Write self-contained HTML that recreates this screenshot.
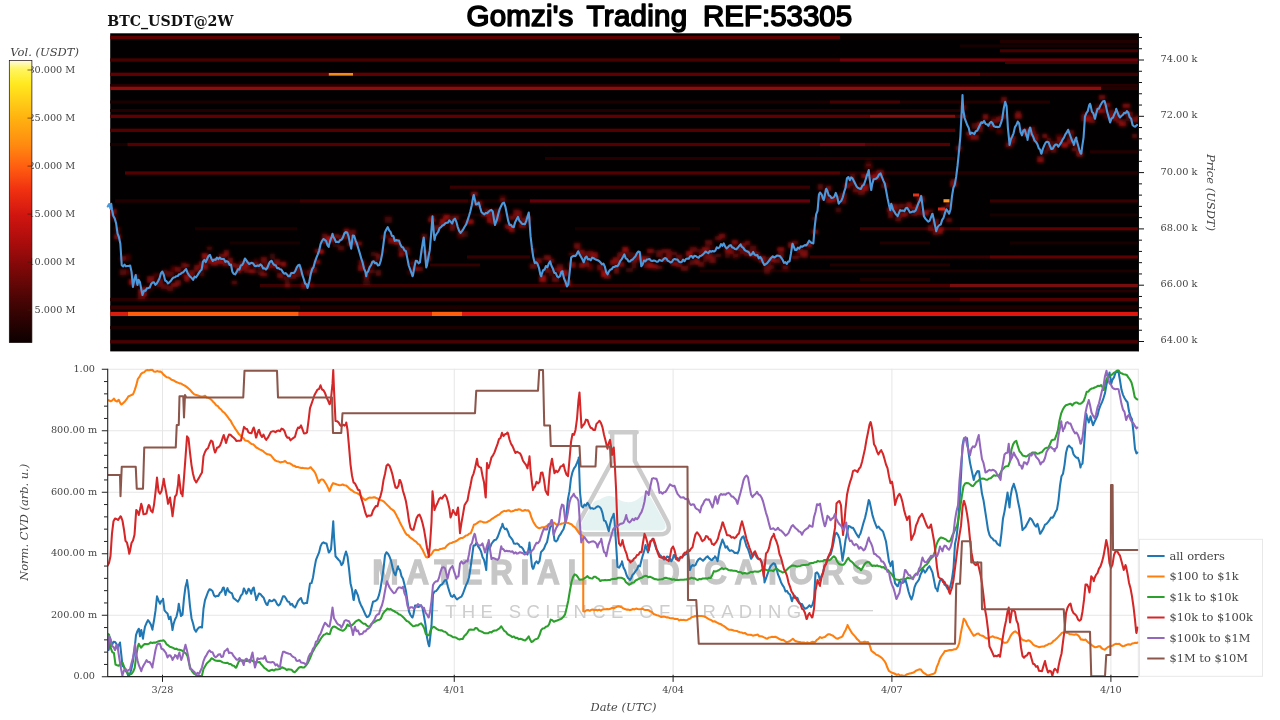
<!DOCTYPE html>
<html lang="en"><head><meta charset="utf-8"><title>Gomzi's Trading REF:53305</title>
<style>
html,body{margin:0;padding:0;background:#fff;}
body{width:1280px;height:720px;overflow:hidden;}
svg{display:block;}
.tk{font-family:"DejaVu Serif","Liberation Serif",serif;font-size:9.7px;fill:#444;}
.ax{font-family:"DejaVu Serif","Liberation Serif",serif;font-size:11.45px;font-style:italic;fill:#444;}
.lg{font-family:"DejaVu Serif","Liberation Serif",serif;font-size:11.45px;fill:#444;}
.ttl{font-family:"DejaVu Serif","Liberation Serif",serif;font-size:14.15px;font-weight:bold;fill:#111;}
.hd{font-family:"Liberation Sans","DejaVu Sans",sans-serif;font-size:29.5px;fill:#000;stroke:#000;stroke-width:1.6px;stroke-linejoin:round;stroke-linecap:round;}
.wm1{font-family:"Liberation Sans","DejaVu Sans",sans-serif;font-weight:bold;font-size:36px;fill:#c6c6c6;stroke:#c6c6c6;stroke-width:1.3px;}
.wm2{font-family:"Liberation Sans","DejaVu Sans",sans-serif;font-size:18.5px;fill:#cdcdcd;}
.s{fill:none;stroke-width:2.05;stroke-linejoin:round;stroke-linecap:round;}
</style></head><body>
<svg width="1280" height="720" viewBox="0 0 1280 720">
<defs>
<linearGradient id="cb" x1="0" y1="0" x2="0" y2="1">
<stop offset="0" stop-color="#fffbe0"/><stop offset="0.03" stop-color="#fff560"/><stop offset="0.08" stop-color="#ffea20"/>
<stop offset="0.2" stop-color="#ffb410"/><stop offset="0.3" stop-color="#ff8a10"/><stop offset="0.38" stop-color="#ff5c10"/>
<stop offset="0.46" stop-color="#f03010"/><stop offset="0.55" stop-color="#d01510"/><stop offset="0.65" stop-color="#a80c0c"/>
<stop offset="0.74" stop-color="#7c0808"/><stop offset="0.86" stop-color="#440404"/><stop offset="1" stop-color="#0c0000"/>
</linearGradient>
<filter id="b1" x="-5%" y="-5%" width="110%" height="110%"><feGaussianBlur stdDeviation="0.7"/></filter>
<filter id="b2" x="-5%" y="-5%" width="110%" height="110%"><feGaussianBlur stdDeviation="1.6"/></filter>
<filter id="b0" x="-5%" y="-5%" width="110%" height="110%"><feGaussianBlur stdDeviation="0.35"/></filter>
<clipPath id="hc"><rect x="110.2" y="33.3" width="1028.2" height="318.1"/></clipPath>
<clipPath id="cc"><rect x="108" y="368.5" width="1030.5" height="308.6"/></clipPath>
</defs>
<rect x="0" y="0" width="1280" height="720" fill="#fff"/>
<text class="hd" y="25.5"><tspan x="466.60" textLength="106.60" lengthAdjust="spacing">Gomzi's</tspan> <tspan x="586.60" textLength="100.60" lengthAdjust="spacing">Trading</tspan> <tspan x="703.00" textLength="149.20" lengthAdjust="spacing">REF:53305</tspan></text>

<text class="ttl" x="107.3" y="26.2">BTC_USDT@2W</text>
<text class="ax" x="10.3" y="55.6" textLength="68.6" lengthAdjust="spacingAndGlyphs">Vol. (USDT)</text>
<text class="tk" x="75.3" y="72.9" text-anchor="end">30.000 M</text>
<text class="tk" x="75.3" y="121" text-anchor="end">25.000 M</text>
<text class="tk" x="75.3" y="169" text-anchor="end">20.000 M</text>
<text class="tk" x="75.3" y="217" text-anchor="end">15.000 M</text>
<text class="tk" x="75.3" y="265.1" text-anchor="end">10.000 M</text>
<text class="tk" x="75.3" y="313.1" text-anchor="end">5.000 M</text>
<rect x="9.3" y="60.6" width="22.6" height="282" fill="url(#cb)" stroke="#1a0a0a" stroke-width="0.7"/>
<line x1="27.5" x2="32" y1="70" y2="70" stroke="#3a1a0a" stroke-width="0.8" opacity="0.8"/>
<line x1="27.5" x2="32" y1="118.1" y2="118.1" stroke="#3a1a0a" stroke-width="0.8" opacity="0.8"/>
<line x1="27.5" x2="32" y1="166.1" y2="166.1" stroke="#3a1a0a" stroke-width="0.8" opacity="0.8"/>
<line x1="27.5" x2="32" y1="214.1" y2="214.1" stroke="#3a1a0a" stroke-width="0.8" opacity="0.8"/>
<line x1="27.5" x2="32" y1="262.2" y2="262.2" stroke="#3a1a0a" stroke-width="0.8" opacity="0.8"/>
<line x1="27.5" x2="32" y1="310.2" y2="310.2" stroke="#3a1a0a" stroke-width="0.8" opacity="0.8"/>
<rect x="110.2" y="33.3" width="1028.2" height="318.1" fill="#020000"/>
<g clip-path="url(#hc)">
<g filter="url(#b1)">
<rect x="110" y="35.75" width="730" height="3.3" fill="rgb(94,5,6)"/>
<rect x="840" y="35.75" width="298.4" height="3.3" fill="rgb(17,1,1)"/>
<rect x="1000" y="40.05" width="138.4" height="2.9" fill="rgb(34,2,2)"/>
<rect x="960" y="44.35" width="178.4" height="2.9" fill="rgb(24,1,1)"/>
<rect x="1000" y="49.25" width="138.4" height="3.1" fill="rgb(70,4,4)"/>
<rect x="110" y="58.35" width="730" height="3.3" fill="rgb(70,4,4)"/>
<rect x="840" y="58.35" width="165" height="3.3" fill="rgb(112,6,7)"/>
<rect x="1005" y="58.35" width="133.4" height="3.3" fill="rgb(104,6,7)"/>
<rect x="1005" y="61" width="133.4" height="3" fill="rgb(66,3,4)"/>
<rect x="110" y="72.65" width="870" height="3.3" fill="rgb(97,5,6)"/>
<rect x="980" y="72.65" width="158.4" height="3.3" fill="rgb(62,3,4)"/>
<rect x="110" y="83.95" width="1028.4" height="2.7" fill="rgb(37,2,2)"/>
<rect x="110" y="86.55" width="991" height="3.5" fill="rgb(140,8,9)"/>
<rect x="1101" y="86.55" width="37.4" height="3.5" fill="rgb(37,2,2)"/>
<rect x="110" y="100.45" width="720" height="3.1" fill="rgb(26,1,1)"/>
<rect x="830" y="100.45" width="70" height="3.1" fill="rgb(70,4,4)"/>
<rect x="900" y="100.45" width="150" height="3.1" fill="rgb(34,2,2)"/>
<rect x="110" y="109.05" width="850" height="2.9" fill="rgb(35,2,2)"/>
<rect x="110" y="114.65" width="760" height="3.3" fill="rgb(97,5,6)"/>
<rect x="870" y="114.65" width="85" height="3.3" fill="rgb(132,7,9)"/>
<rect x="955" y="114.65" width="10" height="3.3" fill="rgb(59,3,4)"/>
<rect x="110" y="128.65" width="845" height="3.3" fill="rgb(84,5,5)"/>
<rect x="110" y="142.85" width="17.5" height="3.3" fill="rgb(24,1,1)"/>
<rect x="127.5" y="142.85" width="692.5" height="3.3" fill="rgb(84,5,5)"/>
<rect x="820" y="142.85" width="45" height="3.3" fill="rgb(112,6,7)"/>
<rect x="865" y="142.85" width="85" height="3.3" fill="rgb(84,5,5)"/>
<rect x="545" y="156.95" width="410" height="3.1" fill="rgb(38,2,2)"/>
<rect x="1090" y="150.35" width="48.4" height="2.9" fill="rgb(34,2,2)"/>
<rect x="125" y="171.35" width="715" height="3.3" fill="rgb(84,5,5)"/>
<rect x="840" y="171.35" width="118" height="3.3" fill="rgb(37,2,2)"/>
<rect x="958" y="171.35" width="180.4" height="3.3" fill="rgb(34,2,2)"/>
<rect x="450" y="185.65" width="360" height="3.1" fill="rgb(57,3,4)"/>
<rect x="115" y="199.35" width="185" height="3.3" fill="rgb(34,2,2)"/>
<rect x="300" y="199.35" width="168" height="3.3" fill="rgb(62,3,4)"/>
<rect x="468" y="199.35" width="62" height="3.3" fill="rgb(27,1,1)"/>
<rect x="530" y="199.35" width="280" height="3.3" fill="rgb(100,6,7)"/>
<rect x="990" y="199.35" width="148.4" height="3.3" fill="rgb(55,3,3)"/>
<rect x="430" y="213.55" width="90" height="2.9" fill="rgb(24,1,1)"/>
<rect x="990" y="213.55" width="148.4" height="2.9" fill="rgb(18,1,1)"/>
<rect x="195" y="227.25" width="102" height="3.1" fill="rgb(29,1,2)"/>
<rect x="575" y="227.25" width="125" height="3.1" fill="rgb(24,1,1)"/>
<rect x="860" y="227.25" width="100" height="3.1" fill="rgb(62,3,4)"/>
<rect x="960" y="227.25" width="178.4" height="3.1" fill="rgb(96,5,6)"/>
<rect x="230" y="241.55" width="70" height="2.9" fill="rgb(24,1,1)"/>
<rect x="880" y="241.55" width="50" height="2.9" fill="rgb(34,2,2)"/>
<rect x="1010" y="241.55" width="128.4" height="2.9" fill="rgb(21,1,1)"/>
<rect x="467" y="255.45" width="63" height="3.1" fill="rgb(51,3,3)"/>
<rect x="810" y="255.45" width="180" height="3.1" fill="rgb(55,3,3)"/>
<rect x="990" y="255.45" width="148.4" height="3.1" fill="rgb(96,5,6)"/>
<rect x="430" y="263.55" width="50" height="2.9" fill="rgb(51,3,3)"/>
<rect x="830" y="263.55" width="120" height="2.9" fill="rgb(34,2,2)"/>
<rect x="700" y="269.55" width="438.4" height="2.9" fill="rgb(27,1,1)"/>
<rect x="860" y="278.05" width="70" height="2.9" fill="rgb(31,1,2)"/>
<rect x="260" y="283.85" width="380" height="3.3" fill="rgb(59,3,4)"/>
<rect x="640" y="283.85" width="310" height="3.3" fill="rgb(70,4,4)"/>
<rect x="950" y="283.85" width="188.4" height="3.3" fill="rgb(120,7,8)"/>
<rect x="560" y="289.55" width="578.4" height="2.9" fill="rgb(40,2,2)"/>
<rect x="110" y="297.85" width="190" height="3.3" fill="rgb(38,2,2)"/>
<rect x="300" y="297.85" width="340" height="3.3" fill="rgb(51,3,3)"/>
<rect x="640" y="297.85" width="320" height="3.3" fill="rgb(62,3,4)"/>
<rect x="960" y="297.85" width="178.4" height="3.3" fill="rgb(84,5,5)"/>
<rect x="110" y="305.5" width="190" height="4" fill="rgb(53,3,3)"/>
<rect x="300" y="305.5" width="838.4" height="4" fill="rgb(31,1,2)"/>
<rect x="110" y="311.8" width="17.8" height="4.2" fill="rgb(216,26,12)"/>
<rect x="127.8" y="311.8" width="171" height="4.2" fill="rgb(255,92,16)"/>
<rect x="298.8" y="311.8" width="133.2" height="4.2" fill="rgb(218,26,12)"/>
<rect x="432" y="311.8" width="30" height="4.2" fill="rgb(255,95,16)"/>
<rect x="462" y="311.8" width="676.4" height="4.2" fill="rgb(222,24,12)"/>
<rect x="110" y="325.95" width="1028.4" height="3.1" fill="rgb(31,1,2)"/>
<rect x="110" y="340.15" width="1028.4" height="3.3" fill="rgb(72,4,5)"/>
</g>
<g filter="url(#b2)">
<rect x="107.91" y="212.17" width="6.18" height="3.67" fill="rgb(152,16,16)" opacity="0.71"/>
<rect x="107.14" y="208.95" width="7.73" height="4.25" fill="rgb(193,16,16)" opacity="0.34"/>
<rect x="111.62" y="208.63" width="5.18" height="5.48" fill="rgb(147,16,16)" opacity="0.77"/>
<rect x="111.38" y="215.45" width="5.66" height="5.45" fill="rgb(193,16,16)" opacity="0.37"/>
<rect x="114.3" y="226.61" width="6.68" height="5.89" fill="rgb(164,16,16)" opacity="0.35"/>
<rect x="114.07" y="234.16" width="7.14" height="5.48" fill="rgb(203,16,16)" opacity="0.61"/>
<rect x="119.49" y="269.12" width="6.4" height="6.73" fill="rgb(171,16,16)" opacity="0.48"/>
<rect x="119.82" y="255.92" width="5.73" height="5.51" fill="rgb(183,16,16)" opacity="0.56"/>
<rect x="125.26" y="269.15" width="5.22" height="5.29" fill="rgb(183,16,16)" opacity="0.38"/>
<rect x="124.74" y="254.02" width="6.27" height="6.87" fill="rgb(180,16,16)" opacity="0.34"/>
<rect x="128.52" y="279.27" width="6.74" height="5.1" fill="rgb(174,16,16)" opacity="0.72"/>
<rect x="129.29" y="279.61" width="5.19" height="6.06" fill="rgb(197,16,16)" opacity="0.45"/>
<rect x="132.73" y="279.71" width="6.04" height="6.79" fill="rgb(154,16,16)" opacity="0.48"/>
<rect x="132.09" y="274.51" width="7.3" height="3.95" fill="rgb(190,16,16)" opacity="0.42"/>
<rect x="138.32" y="288.92" width="6.35" height="5.42" fill="rgb(195,16,16)" opacity="0.74"/>
<rect x="137.52" y="293.69" width="7.96" height="5.89" fill="rgb(169,16,16)" opacity="0.49"/>
<rect x="141.46" y="286.63" width="6.98" height="3.54" fill="rgb(163,16,16)" opacity="0.72"/>
<rect x="142.23" y="291.18" width="5.44" height="5.37" fill="rgb(180,16,16)" opacity="0.6"/>
<rect x="147" y="276.08" width="7.61" height="6.83" fill="rgb(190,16,16)" opacity="0.64"/>
<rect x="148.15" y="285.48" width="5.31" height="5.72" fill="rgb(148,16,16)" opacity="0.33"/>
<rect x="153.75" y="283.99" width="6.02" height="3.68" fill="rgb(159,16,16)" opacity="0.3"/>
<rect x="153.34" y="273.07" width="6.84" height="3.75" fill="rgb(188,16,16)" opacity="0.4"/>
<rect x="156.8" y="281.9" width="6.81" height="5.16" fill="rgb(202,16,16)" opacity="0.36"/>
<rect x="157.24" y="278.67" width="5.94" height="4" fill="rgb(173,16,16)" opacity="0.67"/>
<rect x="161.84" y="269.31" width="5.62" height="6.83" fill="rgb(143,16,16)" opacity="0.48"/>
<rect x="160.85" y="283.72" width="7.59" height="5.94" fill="rgb(186,16,16)" opacity="0.43"/>
<rect x="167.07" y="285.5" width="6.6" height="6.23" fill="rgb(168,16,16)" opacity="0.46"/>
<rect x="166.64" y="270.94" width="7.45" height="6.09" fill="rgb(203,16,16)" opacity="0.41"/>
<rect x="170.75" y="265.9" width="7.37" height="5.15" fill="rgb(184,16,16)" opacity="0.4"/>
<rect x="170.85" y="282.5" width="7.17" height="4.72" fill="rgb(150,16,16)" opacity="0.79"/>
<rect x="175.09" y="267.17" width="6.01" height="5.19" fill="rgb(140,16,16)" opacity="0.79"/>
<rect x="175.08" y="279.92" width="6.03" height="5.75" fill="rgb(155,16,16)" opacity="0.72"/>
<rect x="181.06" y="262.47" width="5.54" height="6.26" fill="rgb(190,16,16)" opacity="0.47"/>
<rect x="179.91" y="271.61" width="7.84" height="6.04" fill="rgb(156,16,16)" opacity="0.39"/>
<rect x="184.19" y="275.2" width="5.44" height="6.39" fill="rgb(184,16,16)" opacity="0.79"/>
<rect x="184.21" y="263.78" width="5.39" height="3.55" fill="rgb(153,16,16)" opacity="0.79"/>
<rect x="187.68" y="269.81" width="7.62" height="6.39" fill="rgb(172,16,16)" opacity="0.41"/>
<rect x="188.63" y="271.36" width="5.72" height="5.55" fill="rgb(193,16,16)" opacity="0.43"/>
<rect x="193.96" y="264.68" width="6.06" height="5.1" fill="rgb(193,16,16)" opacity="0.59"/>
<rect x="193.71" y="268.47" width="6.57" height="3.57" fill="rgb(163,16,16)" opacity="0.52"/>
<rect x="198.61" y="261.13" width="6.42" height="6.04" fill="rgb(181,16,16)" opacity="0.58"/>
<rect x="199.16" y="271.07" width="5.32" height="5.46" fill="rgb(175,16,16)" opacity="0.42"/>
<rect x="201.6" y="253.11" width="6.69" height="6.16" fill="rgb(196,16,16)" opacity="0.76"/>
<rect x="201.69" y="264.5" width="6.52" height="5.29" fill="rgb(197,16,16)" opacity="0.65"/>
<rect x="206.6" y="258.43" width="5.74" height="5.33" fill="rgb(173,16,16)" opacity="0.74"/>
<rect x="206.76" y="246.35" width="5.41" height="3.93" fill="rgb(149,16,16)" opacity="0.52"/>
<rect x="210.98" y="258.98" width="7.01" height="6.24" fill="rgb(159,16,16)" opacity="0.75"/>
<rect x="210.66" y="259.22" width="7.65" height="6.89" fill="rgb(152,16,16)" opacity="0.41"/>
<rect x="215.17" y="258.56" width="7" height="4.28" fill="rgb(205,16,16)" opacity="0.65"/>
<rect x="215.88" y="259.8" width="5.59" height="4.61" fill="rgb(142,16,16)" opacity="0.66"/>
<rect x="220.16" y="259.88" width="5.05" height="4.66" fill="rgb(205,16,16)" opacity="0.61"/>
<rect x="218.81" y="253.64" width="7.76" height="4.3" fill="rgb(150,16,16)" opacity="0.74"/>
<rect x="223.71" y="250.17" width="5.54" height="6.15" fill="rgb(173,16,16)" opacity="0.71"/>
<rect x="222.61" y="260.93" width="7.76" height="5.5" fill="rgb(151,16,16)" opacity="0.65"/>
<rect x="227.72" y="257.53" width="5.22" height="6.78" fill="rgb(173,16,16)" opacity="0.62"/>
<rect x="227.49" y="257.25" width="5.67" height="4.43" fill="rgb(141,16,16)" opacity="0.36"/>
<rect x="231.44" y="280.65" width="5.8" height="3.95" fill="rgb(170,16,16)" opacity="0.56"/>
<rect x="231.45" y="263.39" width="5.79" height="4.13" fill="rgb(179,16,16)" opacity="0.77"/>
<rect x="235.68" y="263.72" width="6.5" height="4.12" fill="rgb(142,16,16)" opacity="0.47"/>
<rect x="236.41" y="267.76" width="5.06" height="5.27" fill="rgb(205,16,16)" opacity="0.79"/>
<rect x="239.63" y="260.88" width="7.46" height="5.01" fill="rgb(190,16,16)" opacity="0.55"/>
<rect x="239.39" y="265.69" width="7.95" height="4.7" fill="rgb(157,16,16)" opacity="0.72"/>
<rect x="243.82" y="269.15" width="7.51" height="3.55" fill="rgb(172,16,16)" opacity="0.61"/>
<rect x="244.95" y="261.15" width="5.25" height="6.44" fill="rgb(176,16,16)" opacity="0.74"/>
<rect x="249.59" y="261.67" width="5.56" height="4.44" fill="rgb(186,16,16)" opacity="0.3"/>
<rect x="249.05" y="269.14" width="6.64" height="4.36" fill="rgb(179,16,16)" opacity="0.78"/>
<rect x="252.95" y="262.43" width="6.14" height="5.16" fill="rgb(165,16,16)" opacity="0.55"/>
<rect x="253.52" y="258.77" width="5.01" height="4.42" fill="rgb(191,16,16)" opacity="0.34"/>
<rect x="257.83" y="264.51" width="5.91" height="4.31" fill="rgb(159,16,16)" opacity="0.59"/>
<rect x="257.2" y="269.99" width="7.16" height="5.23" fill="rgb(158,16,16)" opacity="0.44"/>
<rect x="260.2" y="272.52" width="7.44" height="3.99" fill="rgb(204,16,16)" opacity="0.56"/>
<rect x="260.54" y="256.72" width="6.75" height="6.62" fill="rgb(169,16,16)" opacity="0.64"/>
<rect x="264.13" y="265.88" width="6.08" height="3.87" fill="rgb(146,16,16)" opacity="0.72"/>
<rect x="263.65" y="261.26" width="7.04" height="5.21" fill="rgb(148,16,16)" opacity="0.3"/>
<rect x="269.82" y="253.48" width="5.2" height="6.08" fill="rgb(149,16,16)" opacity="0.43"/>
<rect x="268.78" y="263.52" width="7.27" height="4.31" fill="rgb(198,16,16)" opacity="0.62"/>
<rect x="273.03" y="267.05" width="7.73" height="4.51" fill="rgb(165,16,16)" opacity="0.32"/>
<rect x="273.9" y="259" width="6" height="5.78" fill="rgb(157,16,16)" opacity="0.65"/>
<rect x="275.98" y="261.91" width="7.92" height="3.85" fill="rgb(202,16,16)" opacity="0.41"/>
<rect x="277.01" y="272.83" width="5.86" height="5.13" fill="rgb(165,16,16)" opacity="0.68"/>
<rect x="281.34" y="261.59" width="5.05" height="5.11" fill="rgb(197,16,16)" opacity="0.71"/>
<rect x="279.99" y="273.35" width="7.75" height="6.76" fill="rgb(151,16,16)" opacity="0.34"/>
<rect x="284.6" y="281.51" width="5.4" height="6.37" fill="rgb(154,16,16)" opacity="0.55"/>
<rect x="283.45" y="276.32" width="7.69" height="5.2" fill="rgb(140,16,16)" opacity="0.31"/>
<rect x="289.55" y="274.73" width="7.18" height="4.96" fill="rgb(155,16,16)" opacity="0.49"/>
<rect x="289.52" y="270.76" width="7.25" height="6.44" fill="rgb(165,16,16)" opacity="0.36"/>
<rect x="295.69" y="266.37" width="5.19" height="4.87" fill="rgb(149,16,16)" opacity="0.73"/>
<rect x="294.65" y="270.94" width="7.27" height="6.49" fill="rgb(146,16,16)" opacity="0.44"/>
<rect x="301.06" y="282.1" width="5.45" height="6.9" fill="rgb(180,16,16)" opacity="0.52"/>
<rect x="300.11" y="269.78" width="7.36" height="5" fill="rgb(191,16,16)" opacity="0.31"/>
<rect x="306.95" y="270.09" width="5.15" height="6.06" fill="rgb(157,16,16)" opacity="0.53"/>
<rect x="305.66" y="282.05" width="7.74" height="5.43" fill="rgb(193,16,16)" opacity="0.39"/>
<rect x="309.95" y="266.26" width="7.22" height="5.78" fill="rgb(170,16,16)" opacity="0.5"/>
<rect x="310.06" y="269.01" width="7.01" height="3.92" fill="rgb(149,16,16)" opacity="0.62"/>
<rect x="314" y="259.47" width="6.36" height="4.66" fill="rgb(194,16,16)" opacity="0.68"/>
<rect x="314.32" y="248.96" width="5.73" height="4.11" fill="rgb(180,16,16)" opacity="0.58"/>
<rect x="318.1" y="250.09" width="5.61" height="3.57" fill="rgb(189,16,16)" opacity="0.74"/>
<rect x="318.08" y="249.14" width="5.63" height="4.45" fill="rgb(203,16,16)" opacity="0.68"/>
<rect x="321.48" y="238.01" width="6.51" height="5.7" fill="rgb(167,16,16)" opacity="0.73"/>
<rect x="321.86" y="233.24" width="5.75" height="4.9" fill="rgb(179,16,16)" opacity="0.52"/>
<rect x="327.14" y="235.78" width="6.28" height="6.17" fill="rgb(202,16,16)" opacity="0.7"/>
<rect x="326.38" y="235.93" width="7.79" height="6.75" fill="rgb(199,16,16)" opacity="0.56"/>
<rect x="333.36" y="234.31" width="5.67" height="4.03" fill="rgb(153,16,16)" opacity="0.79"/>
<rect x="332.53" y="243.52" width="7.33" height="3.5" fill="rgb(144,16,16)" opacity="0.36"/>
<rect x="337.69" y="245.44" width="6.88" height="5.35" fill="rgb(154,16,16)" opacity="0.52"/>
<rect x="337.84" y="235.08" width="6.57" height="5.54" fill="rgb(168,16,16)" opacity="0.49"/>
<rect x="343.55" y="228.48" width="5.9" height="5.11" fill="rgb(171,16,16)" opacity="0.78"/>
<rect x="343.18" y="235.53" width="6.64" height="3.6" fill="rgb(179,16,16)" opacity="0.51"/>
<rect x="346.16" y="233.37" width="7.02" height="4.97" fill="rgb(194,16,16)" opacity="0.43"/>
<rect x="347.12" y="241.32" width="5.1" height="4.68" fill="rgb(190,16,16)" opacity="0.51"/>
<rect x="350.01" y="240.13" width="6.51" height="4.22" fill="rgb(179,16,16)" opacity="0.78"/>
<rect x="350.43" y="229.4" width="5.66" height="6.16" fill="rgb(203,16,16)" opacity="0.45"/>
<rect x="354.23" y="241.38" width="7.73" height="3.7" fill="rgb(190,16,16)" opacity="0.6"/>
<rect x="354.13" y="243.4" width="7.92" height="4" fill="rgb(147,16,16)" opacity="0.33"/>
<rect x="357.82" y="265.09" width="7.65" height="6.06" fill="rgb(161,16,16)" opacity="0.8"/>
<rect x="358.17" y="259.79" width="6.96" height="5.34" fill="rgb(179,16,16)" opacity="0.53"/>
<rect x="362.66" y="280.16" width="7.95" height="5.05" fill="rgb(150,16,16)" opacity="0.35"/>
<rect x="363.51" y="273.32" width="6.26" height="6.6" fill="rgb(166,16,16)" opacity="0.58"/>
<rect x="367.63" y="269.77" width="6.3" height="3.67" fill="rgb(187,16,16)" opacity="0.54"/>
<rect x="367.73" y="263.25" width="6.09" height="6.64" fill="rgb(192,16,16)" opacity="0.32"/>
<rect x="371.97" y="260.57" width="5.1" height="3.72" fill="rgb(172,16,16)" opacity="0.76"/>
<rect x="370.68" y="251.78" width="7.7" height="4.69" fill="rgb(145,16,16)" opacity="0.44"/>
<rect x="375.36" y="269.9" width="5.89" height="6.03" fill="rgb(148,16,16)" opacity="0.6"/>
<rect x="375.65" y="253.9" width="5.32" height="6" fill="rgb(189,16,16)" opacity="0.53"/>
<rect x="380.98" y="247.97" width="5.4" height="5.24" fill="rgb(178,16,16)" opacity="0.3"/>
<rect x="380.69" y="234.9" width="5.98" height="4.62" fill="rgb(150,16,16)" opacity="0.48"/>
<rect x="385.34" y="233.55" width="5.74" height="3.73" fill="rgb(181,16,16)" opacity="0.32"/>
<rect x="384.39" y="216.07" width="7.65" height="6.96" fill="rgb(150,16,16)" opacity="0.43"/>
<rect x="388.28" y="237.3" width="7.13" height="5.06" fill="rgb(193,16,16)" opacity="0.42"/>
<rect x="388.33" y="237.75" width="7.02" height="6.12" fill="rgb(155,16,16)" opacity="0.72"/>
<rect x="393.83" y="240.15" width="6.7" height="4.81" fill="rgb(165,16,16)" opacity="0.67"/>
<rect x="394.31" y="240.16" width="5.74" height="4.04" fill="rgb(164,16,16)" opacity="0.74"/>
<rect x="398.29" y="245.74" width="5.74" height="5.34" fill="rgb(152,16,16)" opacity="0.62"/>
<rect x="398.5" y="251.74" width="5.31" height="5.16" fill="rgb(197,16,16)" opacity="0.71"/>
<rect x="404.05" y="247.15" width="5.7" height="3.68" fill="rgb(164,16,16)" opacity="0.6"/>
<rect x="403.1" y="250.49" width="7.6" height="5.07" fill="rgb(140,16,16)" opacity="0.43"/>
<rect x="407.17" y="270.36" width="6.11" height="3.99" fill="rgb(172,16,16)" opacity="0.4"/>
<rect x="406.74" y="261.71" width="6.95" height="4.21" fill="rgb(181,16,16)" opacity="0.31"/>
<rect x="411.48" y="266.9" width="5.94" height="4.21" fill="rgb(201,16,16)" opacity="0.7"/>
<rect x="410.75" y="259.34" width="7.39" height="5.82" fill="rgb(151,16,16)" opacity="0.38"/>
<rect x="416.29" y="266.7" width="6.23" height="4.49" fill="rgb(146,16,16)" opacity="0.45"/>
<rect x="415.58" y="266.87" width="7.65" height="4.95" fill="rgb(186,16,16)" opacity="0.31"/>
<rect x="421.53" y="249.62" width="5.61" height="3.52" fill="rgb(194,16,16)" opacity="0.75"/>
<rect x="421.23" y="233.7" width="6.22" height="6.59" fill="rgb(160,16,16)" opacity="0.53"/>
<rect x="424.27" y="252.41" width="6.92" height="6.68" fill="rgb(187,16,16)" opacity="0.34"/>
<rect x="424.8" y="256.34" width="5.85" height="5.32" fill="rgb(153,16,16)" opacity="0.76"/>
<rect x="428.12" y="218.56" width="7.51" height="3.65" fill="rgb(180,16,16)" opacity="0.76"/>
<rect x="428.42" y="216.04" width="6.91" height="3.8" fill="rgb(160,16,16)" opacity="0.66"/>
<rect x="433.38" y="225.17" width="6.84" height="4.19" fill="rgb(167,16,16)" opacity="0.54"/>
<rect x="433.52" y="226.61" width="6.55" height="4.84" fill="rgb(171,16,16)" opacity="0.36"/>
<rect x="439.37" y="221.42" width="6.69" height="6.15" fill="rgb(181,16,16)" opacity="0.32"/>
<rect x="439.53" y="218.47" width="6.37" height="6.47" fill="rgb(193,16,16)" opacity="0.69"/>
<rect x="443.15" y="215.79" width="6.98" height="5.06" fill="rgb(142,16,16)" opacity="0.52"/>
<rect x="443.4" y="214.61" width="6.47" height="4.32" fill="rgb(198,16,16)" opacity="0.68"/>
<rect x="449.55" y="226.47" width="5.2" height="4.76" fill="rgb(196,16,16)" opacity="0.48"/>
<rect x="449.45" y="219.96" width="5.39" height="6.73" fill="rgb(205,16,16)" opacity="0.46"/>
<rect x="451.71" y="224.43" width="7.35" height="3.59" fill="rgb(154,16,16)" opacity="0.33"/>
<rect x="451.56" y="215.69" width="7.66" height="4.51" fill="rgb(161,16,16)" opacity="0.71"/>
<rect x="457.42" y="228.37" width="6.05" height="6.15" fill="rgb(175,16,16)" opacity="0.38"/>
<rect x="457.19" y="231.75" width="6.51" height="6.72" fill="rgb(173,16,16)" opacity="0.4"/>
<rect x="462.74" y="220.18" width="5.11" height="4.14" fill="rgb(175,16,16)" opacity="0.38"/>
<rect x="462.54" y="230.84" width="5.51" height="6.25" fill="rgb(146,16,16)" opacity="0.36"/>
<rect x="467.02" y="218.88" width="6.36" height="5.33" fill="rgb(153,16,16)" opacity="0.64"/>
<rect x="466.76" y="219.32" width="6.89" height="4.88" fill="rgb(173,16,16)" opacity="0.7"/>
<rect x="471.29" y="199.85" width="6.08" height="6.18" fill="rgb(162,16,16)" opacity="0.52"/>
<rect x="471.05" y="191.65" width="6.55" height="4.59" fill="rgb(180,16,16)" opacity="0.78"/>
<rect x="476.59" y="200.78" width="5.87" height="5.69" fill="rgb(186,16,16)" opacity="0.51"/>
<rect x="476.69" y="201.45" width="5.68" height="5.79" fill="rgb(140,16,16)" opacity="0.31"/>
<rect x="481.19" y="213.17" width="6.07" height="4.28" fill="rgb(157,16,16)" opacity="0.59"/>
<rect x="480.49" y="207.5" width="7.49" height="4.06" fill="rgb(171,16,16)" opacity="0.31"/>
<rect x="485.89" y="209.48" width="6.91" height="6.55" fill="rgb(191,16,16)" opacity="0.69"/>
<rect x="486.77" y="216.54" width="5.17" height="6.37" fill="rgb(196,16,16)" opacity="0.75"/>
<rect x="490.3" y="221.11" width="7.71" height="3.65" fill="rgb(191,16,16)" opacity="0.57"/>
<rect x="491.57" y="213.93" width="5.18" height="6.23" fill="rgb(165,16,16)" opacity="0.31"/>
<rect x="494.12" y="208.63" width="6.93" height="5.77" fill="rgb(162,16,16)" opacity="0.51"/>
<rect x="494.15" y="214.68" width="6.88" height="6.98" fill="rgb(201,16,16)" opacity="0.66"/>
<rect x="499.58" y="195.38" width="6.31" height="6.69" fill="rgb(197,16,16)" opacity="0.34"/>
<rect x="500.07" y="197.77" width="5.32" height="4.31" fill="rgb(182,16,16)" opacity="0.32"/>
<rect x="505.51" y="224.19" width="5.8" height="5.44" fill="rgb(173,16,16)" opacity="0.52"/>
<rect x="504.46" y="224.22" width="7.9" height="4.26" fill="rgb(141,16,16)" opacity="0.74"/>
<rect x="509.11" y="215.72" width="5.61" height="4.06" fill="rgb(164,16,16)" opacity="0.76"/>
<rect x="509.05" y="225.77" width="5.72" height="6.68" fill="rgb(200,16,16)" opacity="0.62"/>
<rect x="513.17" y="209.25" width="6.31" height="6.04" fill="rgb(179,16,16)" opacity="0.59"/>
<rect x="512.95" y="213.26" width="6.76" height="5.48" fill="rgb(144,16,16)" opacity="0.39"/>
<rect x="516.67" y="210.45" width="5.49" height="6.92" fill="rgb(143,16,16)" opacity="0.65"/>
<rect x="515.95" y="215.96" width="6.93" height="3.65" fill="rgb(145,16,16)" opacity="0.33"/>
<rect x="518.68" y="222.8" width="7.86" height="5.37" fill="rgb(189,16,16)" opacity="0.63"/>
<rect x="519.8" y="218.11" width="5.61" height="3.62" fill="rgb(151,16,16)" opacity="0.77"/>
<rect x="525.38" y="216.28" width="5.4" height="6.27" fill="rgb(177,16,16)" opacity="0.62"/>
<rect x="525.19" y="215.92" width="5.78" height="4.73" fill="rgb(146,16,16)" opacity="0.77"/>
<rect x="529.58" y="263.3" width="7.31" height="5.61" fill="rgb(176,16,16)" opacity="0.54"/>
<rect x="530.68" y="247.85" width="5.09" height="5.32" fill="rgb(200,16,16)" opacity="0.35"/>
<rect x="534.6" y="257.85" width="7.48" height="5.51" fill="rgb(195,16,16)" opacity="0.44"/>
<rect x="535.41" y="259.07" width="5.87" height="6.13" fill="rgb(184,16,16)" opacity="0.33"/>
<rect x="539.08" y="275.56" width="7.48" height="6.89" fill="rgb(205,16,16)" opacity="0.6"/>
<rect x="540.08" y="274.89" width="5.48" height="6.35" fill="rgb(169,16,16)" opacity="0.77"/>
<rect x="543.66" y="255.25" width="7.3" height="5.22" fill="rgb(153,16,16)" opacity="0.8"/>
<rect x="544.21" y="267.77" width="6.2" height="4.88" fill="rgb(151,16,16)" opacity="0.75"/>
<rect x="548.62" y="258.26" width="5.91" height="5" fill="rgb(161,16,16)" opacity="0.57"/>
<rect x="548.13" y="270.19" width="6.89" height="6.8" fill="rgb(144,16,16)" opacity="0.36"/>
<rect x="551.82" y="276.93" width="7.6" height="5.08" fill="rgb(181,16,16)" opacity="0.58"/>
<rect x="552.09" y="267.39" width="7.07" height="4.4" fill="rgb(182,16,16)" opacity="0.42"/>
<rect x="557.11" y="267.21" width="5.8" height="6.14" fill="rgb(159,16,16)" opacity="0.71"/>
<rect x="556.42" y="263.74" width="7.17" height="5.61" fill="rgb(170,16,16)" opacity="0.47"/>
<rect x="560.06" y="270.29" width="7.86" height="6.98" fill="rgb(153,16,16)" opacity="0.38"/>
<rect x="560.02" y="269.64" width="7.95" height="6.28" fill="rgb(195,16,16)" opacity="0.67"/>
<rect x="565.16" y="279.19" width="5.32" height="4.22" fill="rgb(144,16,16)" opacity="0.49"/>
<rect x="564.13" y="280.25" width="7.37" height="5.93" fill="rgb(177,16,16)" opacity="0.55"/>
<rect x="568.6" y="252.41" width="7.21" height="3.52" fill="rgb(195,16,16)" opacity="0.42"/>
<rect x="568.7" y="262.1" width="7" height="5.78" fill="rgb(169,16,16)" opacity="0.74"/>
<rect x="574.27" y="245.03" width="5.94" height="5.7" fill="rgb(193,16,16)" opacity="0.35"/>
<rect x="573.67" y="242.4" width="7.14" height="5.7" fill="rgb(194,16,16)" opacity="0.43"/>
<rect x="578.58" y="249.48" width="6.23" height="5.86" fill="rgb(163,16,16)" opacity="0.77"/>
<rect x="578.61" y="263" width="6.17" height="5.21" fill="rgb(144,16,16)" opacity="0.79"/>
<rect x="581.77" y="252.66" width="7.35" height="6.79" fill="rgb(152,16,16)" opacity="0.56"/>
<rect x="581.87" y="261.02" width="7.15" height="5.29" fill="rgb(187,16,16)" opacity="0.62"/>
<rect x="586.83" y="263.45" width="6.37" height="6.97" fill="rgb(205,16,16)" opacity="0.39"/>
<rect x="586.59" y="250.29" width="6.84" height="5.73" fill="rgb(188,16,16)" opacity="0.43"/>
<rect x="590.34" y="253.38" width="7.75" height="5.7" fill="rgb(173,16,16)" opacity="0.64"/>
<rect x="590.6" y="251.64" width="7.22" height="6.79" fill="rgb(168,16,16)" opacity="0.56"/>
<rect x="597.45" y="263.07" width="5.49" height="6.75" fill="rgb(164,16,16)" opacity="0.33"/>
<rect x="596.61" y="264.71" width="7.16" height="6.35" fill="rgb(192,16,16)" opacity="0.37"/>
<rect x="601.12" y="271.14" width="6.95" height="6.23" fill="rgb(169,16,16)" opacity="0.53"/>
<rect x="601.07" y="270.34" width="7.06" height="6.94" fill="rgb(201,16,16)" opacity="0.64"/>
<rect x="604.12" y="274.55" width="6.96" height="4.62" fill="rgb(150,16,16)" opacity="0.54"/>
<rect x="604.65" y="272.79" width="5.91" height="4.85" fill="rgb(181,16,16)" opacity="0.34"/>
<rect x="609.94" y="260" width="6.04" height="5.54" fill="rgb(166,16,16)" opacity="0.63"/>
<rect x="610.08" y="259.84" width="5.75" height="3.86" fill="rgb(169,16,16)" opacity="0.37"/>
<rect x="613.79" y="266.99" width="5.46" height="6.66" fill="rgb(161,16,16)" opacity="0.7"/>
<rect x="612.67" y="257.08" width="7.68" height="6.26" fill="rgb(165,16,16)" opacity="0.72"/>
<rect x="617.38" y="252.29" width="7.23" height="5.04" fill="rgb(155,16,16)" opacity="0.74"/>
<rect x="617.26" y="261.83" width="7.48" height="5.16" fill="rgb(201,16,16)" opacity="0.58"/>
<rect x="622.53" y="248.41" width="5.74" height="4.08" fill="rgb(140,16,16)" opacity="0.6"/>
<rect x="622.2" y="246.59" width="6.4" height="5.47" fill="rgb(199,16,16)" opacity="0.63"/>
<rect x="626.01" y="267.89" width="7.03" height="4.13" fill="rgb(143,16,16)" opacity="0.48"/>
<rect x="626" y="251.69" width="7.05" height="6.76" fill="rgb(152,16,16)" opacity="0.47"/>
<rect x="631.34" y="264.28" width="5.43" height="4.25" fill="rgb(156,16,16)" opacity="0.51"/>
<rect x="630.57" y="258.75" width="6.98" height="4.69" fill="rgb(166,16,16)" opacity="0.69"/>
<rect x="634.58" y="253.68" width="6.66" height="6.39" fill="rgb(203,16,16)" opacity="0.45"/>
<rect x="633.93" y="252.89" width="7.95" height="6.56" fill="rgb(166,16,16)" opacity="0.47"/>
<rect x="639.9" y="257.32" width="5.95" height="4.55" fill="rgb(151,16,16)" opacity="0.59"/>
<rect x="639.54" y="256.59" width="6.66" height="4.92" fill="rgb(191,16,16)" opacity="0.59"/>
<rect x="643.04" y="255.6" width="7.47" height="5.16" fill="rgb(147,16,16)" opacity="0.68"/>
<rect x="643.33" y="262.52" width="6.88" height="5.94" fill="rgb(150,16,16)" opacity="0.6"/>
<rect x="647.65" y="262.55" width="5.52" height="5.82" fill="rgb(193,16,16)" opacity="0.73"/>
<rect x="646.93" y="248.75" width="6.97" height="4.79" fill="rgb(179,16,16)" opacity="0.71"/>
<rect x="652.32" y="266.85" width="5.55" height="3.62" fill="rgb(146,16,16)" opacity="0.31"/>
<rect x="652.54" y="264.34" width="5.12" height="3.92" fill="rgb(191,16,16)" opacity="0.71"/>
<rect x="656.05" y="250.21" width="6.78" height="6.98" fill="rgb(159,16,16)" opacity="0.63"/>
<rect x="656.11" y="265.4" width="6.65" height="3.79" fill="rgb(159,16,16)" opacity="0.54"/>
<rect x="660.79" y="258.03" width="7.05" height="3.93" fill="rgb(151,16,16)" opacity="0.78"/>
<rect x="661.62" y="249.22" width="5.39" height="3.56" fill="rgb(171,16,16)" opacity="0.66"/>
<rect x="665.62" y="249.14" width="6.1" height="6.12" fill="rgb(158,16,16)" opacity="0.65"/>
<rect x="665.33" y="254.62" width="6.67" height="5.24" fill="rgb(172,16,16)" opacity="0.63"/>
<rect x="671.89" y="251.6" width="5.03" height="3.55" fill="rgb(150,16,16)" opacity="0.63"/>
<rect x="670.82" y="261.57" width="7.19" height="4.08" fill="rgb(202,16,16)" opacity="0.73"/>
<rect x="675.87" y="262.44" width="6.72" height="5.04" fill="rgb(158,16,16)" opacity="0.64"/>
<rect x="675.77" y="254.26" width="6.93" height="5.7" fill="rgb(189,16,16)" opacity="0.51"/>
<rect x="680.89" y="265.9" width="7.35" height="5.48" fill="rgb(147,16,16)" opacity="0.45"/>
<rect x="680.98" y="266.27" width="7.18" height="3.55" fill="rgb(179,16,16)" opacity="0.38"/>
<rect x="685.8" y="251.02" width="7.05" height="5.61" fill="rgb(197,16,16)" opacity="0.75"/>
<rect x="686.34" y="262.13" width="5.96" height="4.44" fill="rgb(145,16,16)" opacity="0.38"/>
<rect x="689.39" y="246.55" width="7.6" height="5.5" fill="rgb(203,16,16)" opacity="0.44"/>
<rect x="689.88" y="259.47" width="6.62" height="5.2" fill="rgb(169,16,16)" opacity="0.49"/>
<rect x="693.92" y="248.35" width="6.4" height="4.22" fill="rgb(141,16,16)" opacity="0.43"/>
<rect x="694.49" y="258.4" width="5.26" height="6.32" fill="rgb(169,16,16)" opacity="0.69"/>
<rect x="698.03" y="261.68" width="6.57" height="5.17" fill="rgb(164,16,16)" opacity="0.59"/>
<rect x="698.54" y="250.67" width="5.54" height="5.95" fill="rgb(185,16,16)" opacity="0.48"/>
<rect x="701.64" y="246.81" width="7.77" height="5.23" fill="rgb(187,16,16)" opacity="0.73"/>
<rect x="702.79" y="256.9" width="5.47" height="5.59" fill="rgb(142,16,16)" opacity="0.47"/>
<rect x="705" y="240.08" width="7.6" height="5.2" fill="rgb(173,16,16)" opacity="0.58"/>
<rect x="704.88" y="252.92" width="7.84" height="6.19" fill="rgb(156,16,16)" opacity="0.71"/>
<rect x="708.57" y="246.04" width="7.98" height="4.82" fill="rgb(144,16,16)" opacity="0.31"/>
<rect x="709.38" y="256.72" width="6.37" height="6.82" fill="rgb(148,16,16)" opacity="0.75"/>
<rect x="714.59" y="253.53" width="7.12" height="3.81" fill="rgb(169,16,16)" opacity="0.46"/>
<rect x="714.65" y="235.97" width="7.01" height="4.88" fill="rgb(160,16,16)" opacity="0.52"/>
<rect x="719.43" y="233.8" width="5.67" height="3.64" fill="rgb(185,16,16)" opacity="0.43"/>
<rect x="718.41" y="233.11" width="7.71" height="6.43" fill="rgb(205,16,16)" opacity="0.32"/>
<rect x="724.68" y="246.99" width="5.43" height="6.14" fill="rgb(178,16,16)" opacity="0.77"/>
<rect x="724.74" y="253.37" width="5.32" height="4.63" fill="rgb(155,16,16)" opacity="0.43"/>
<rect x="728.66" y="246" width="5.72" height="4" fill="rgb(141,16,16)" opacity="0.64"/>
<rect x="728.73" y="250.58" width="5.59" height="3.63" fill="rgb(168,16,16)" opacity="0.76"/>
<rect x="732.04" y="253.9" width="5.42" height="5.07" fill="rgb(189,16,16)" opacity="0.35"/>
<rect x="731.58" y="239.95" width="6.36" height="4.69" fill="rgb(201,16,16)" opacity="0.71"/>
<rect x="735.27" y="247.19" width="5.66" height="3.7" fill="rgb(158,16,16)" opacity="0.66"/>
<rect x="735.2" y="252.39" width="5.8" height="4.94" fill="rgb(174,16,16)" opacity="0.38"/>
<rect x="740.06" y="248.88" width="5.5" height="5.22" fill="rgb(201,16,16)" opacity="0.46"/>
<rect x="739.54" y="242.73" width="6.54" height="5.71" fill="rgb(167,16,16)" opacity="0.69"/>
<rect x="743.86" y="249.75" width="7.26" height="6.9" fill="rgb(173,16,16)" opacity="0.52"/>
<rect x="744.85" y="240.59" width="5.29" height="4.51" fill="rgb(147,16,16)" opacity="0.75"/>
<rect x="749.53" y="252.67" width="6.92" height="5.05" fill="rgb(205,16,16)" opacity="0.55"/>
<rect x="749.31" y="245.1" width="7.37" height="6.8" fill="rgb(186,16,16)" opacity="0.44"/>
<rect x="753.94" y="256.83" width="6.71" height="3.98" fill="rgb(169,16,16)" opacity="0.39"/>
<rect x="754.68" y="251.6" width="5.24" height="3.81" fill="rgb(203,16,16)" opacity="0.6"/>
<rect x="759.16" y="255.58" width="6.84" height="5.98" fill="rgb(179,16,16)" opacity="0.71"/>
<rect x="759.04" y="257.48" width="7.08" height="5.32" fill="rgb(147,16,16)" opacity="0.72"/>
<rect x="763.37" y="263.22" width="7.53" height="6.53" fill="rgb(141,16,16)" opacity="0.55"/>
<rect x="763.92" y="267.81" width="6.43" height="6.55" fill="rgb(163,16,16)" opacity="0.43"/>
<rect x="768.27" y="256.88" width="7.11" height="5.51" fill="rgb(185,16,16)" opacity="0.73"/>
<rect x="769.22" y="264.72" width="5.21" height="4.75" fill="rgb(181,16,16)" opacity="0.42"/>
<rect x="773.32" y="258.8" width="7.69" height="4.52" fill="rgb(203,16,16)" opacity="0.35"/>
<rect x="773.87" y="257.87" width="6.59" height="5.38" fill="rgb(151,16,16)" opacity="0.31"/>
<rect x="777.87" y="252.85" width="5.94" height="5.44" fill="rgb(142,16,16)" opacity="0.78"/>
<rect x="777.23" y="247.3" width="7.22" height="4.41" fill="rgb(199,16,16)" opacity="0.72"/>
<rect x="781.6" y="262.35" width="7.61" height="6.01" fill="rgb(155,16,16)" opacity="0.32"/>
<rect x="782.15" y="266.24" width="6.5" height="4.48" fill="rgb(191,16,16)" opacity="0.36"/>
<rect x="788.33" y="242.6" width="5.44" height="5.5" fill="rgb(161,16,16)" opacity="0.67"/>
<rect x="787.97" y="242.26" width="6.17" height="4.97" fill="rgb(144,16,16)" opacity="0.72"/>
<rect x="792.23" y="240.46" width="6.02" height="4.34" fill="rgb(195,16,16)" opacity="0.47"/>
<rect x="791.47" y="255.53" width="7.54" height="3.69" fill="rgb(185,16,16)" opacity="0.56"/>
<rect x="796.47" y="251.86" width="5.03" height="3.88" fill="rgb(181,16,16)" opacity="0.39"/>
<rect x="795.49" y="247.96" width="7.01" height="4.29" fill="rgb(190,16,16)" opacity="0.51"/>
<rect x="800.61" y="249.43" width="7.43" height="6.6" fill="rgb(144,16,16)" opacity="0.74"/>
<rect x="800.88" y="252.15" width="6.87" height="5.7" fill="rgb(144,16,16)" opacity="0.7"/>
<rect x="806.66" y="241.49" width="5.04" height="4.33" fill="rgb(154,16,16)" opacity="0.32"/>
<rect x="806.43" y="243.61" width="5.5" height="3.71" fill="rgb(205,16,16)" opacity="0.78"/>
<rect x="811.59" y="216.68" width="6.6" height="4.02" fill="rgb(156,16,16)" opacity="0.36"/>
<rect x="811.52" y="229.51" width="6.73" height="4.46" fill="rgb(176,16,16)" opacity="0.67"/>
<rect x="817.61" y="184.07" width="5.6" height="5.99" fill="rgb(178,16,16)" opacity="0.53"/>
<rect x="817.44" y="195.84" width="5.93" height="4.35" fill="rgb(205,16,16)" opacity="0.41"/>
<rect x="822.02" y="192.13" width="6.06" height="6.52" fill="rgb(181,16,16)" opacity="0.42"/>
<rect x="821.23" y="195.32" width="7.64" height="4.26" fill="rgb(142,16,16)" opacity="0.33"/>
<rect x="825.5" y="185.42" width="6.04" height="5.8" fill="rgb(196,16,16)" opacity="0.56"/>
<rect x="825.86" y="198.91" width="5.33" height="4.29" fill="rgb(159,16,16)" opacity="0.78"/>
<rect x="829.97" y="195.97" width="5.61" height="5.64" fill="rgb(152,16,16)" opacity="0.44"/>
<rect x="829.32" y="196.96" width="6.89" height="5.71" fill="rgb(192,16,16)" opacity="0.65"/>
<rect x="835.06" y="195.82" width="6.65" height="3.91" fill="rgb(159,16,16)" opacity="0.5"/>
<rect x="835.46" y="207.03" width="5.84" height="5.67" fill="rgb(197,16,16)" opacity="0.36"/>
<rect x="840.52" y="198.97" width="5.88" height="4.87" fill="rgb(189,16,16)" opacity="0.58"/>
<rect x="839.84" y="192.19" width="7.24" height="6.96" fill="rgb(178,16,16)" opacity="0.49"/>
<rect x="843.86" y="182.93" width="6.31" height="4.82" fill="rgb(182,16,16)" opacity="0.42"/>
<rect x="843.6" y="184.49" width="6.82" height="4.35" fill="rgb(194,16,16)" opacity="0.46"/>
<rect x="849.8" y="173.4" width="5.77" height="6.64" fill="rgb(179,16,16)" opacity="0.45"/>
<rect x="849.41" y="180.11" width="6.55" height="5.9" fill="rgb(185,16,16)" opacity="0.49"/>
<rect x="853.29" y="187.94" width="5.03" height="3.74" fill="rgb(192,16,16)" opacity="0.41"/>
<rect x="852.34" y="186.81" width="6.95" height="6.75" fill="rgb(164,16,16)" opacity="0.38"/>
<rect x="858.05" y="188.76" width="7.3" height="6.65" fill="rgb(151,16,16)" opacity="0.59"/>
<rect x="858.65" y="182.09" width="6.1" height="3.76" fill="rgb(162,16,16)" opacity="0.46"/>
<rect x="861.3" y="184.18" width="7.46" height="6.97" fill="rgb(193,16,16)" opacity="0.74"/>
<rect x="861.31" y="173.84" width="7.45" height="4.23" fill="rgb(192,16,16)" opacity="0.75"/>
<rect x="864.59" y="163.81" width="7.98" height="5.73" fill="rgb(192,16,16)" opacity="0.32"/>
<rect x="865.62" y="160.24" width="5.92" height="5.92" fill="rgb(178,16,16)" opacity="0.3"/>
<rect x="869.27" y="174.59" width="7" height="4.19" fill="rgb(174,16,16)" opacity="0.55"/>
<rect x="869.66" y="174.82" width="6.23" height="3.93" fill="rgb(205,16,16)" opacity="0.38"/>
<rect x="872.17" y="175.63" width="7.84" height="5.22" fill="rgb(195,16,16)" opacity="0.53"/>
<rect x="872.57" y="170.88" width="7.05" height="5.53" fill="rgb(170,16,16)" opacity="0.37"/>
<rect x="876.71" y="169.49" width="6.89" height="6.51" fill="rgb(148,16,16)" opacity="0.77"/>
<rect x="876.72" y="174.75" width="6.87" height="3.57" fill="rgb(190,16,16)" opacity="0.41"/>
<rect x="881.47" y="177.91" width="6.86" height="4.37" fill="rgb(162,16,16)" opacity="0.32"/>
<rect x="881.1" y="183.12" width="7.6" height="5.09" fill="rgb(172,16,16)" opacity="0.51"/>
<rect x="888.18" y="212.45" width="5.2" height="5.87" fill="rgb(168,16,16)" opacity="0.64"/>
<rect x="886.97" y="207.42" width="7.63" height="5.2" fill="rgb(171,16,16)" opacity="0.7"/>
<rect x="891.27" y="203.19" width="5.56" height="6.9" fill="rgb(186,16,16)" opacity="0.45"/>
<rect x="890.24" y="204.49" width="7.61" height="4.68" fill="rgb(155,16,16)" opacity="0.63"/>
<rect x="895.23" y="216.67" width="6.16" height="5.13" fill="rgb(195,16,16)" opacity="0.47"/>
<rect x="895.78" y="207.42" width="5.08" height="6.32" fill="rgb(156,16,16)" opacity="0.42"/>
<rect x="897.91" y="212.38" width="7.36" height="5.44" fill="rgb(170,16,16)" opacity="0.53"/>
<rect x="898.77" y="203.34" width="5.65" height="4.92" fill="rgb(166,16,16)" opacity="0.61"/>
<rect x="902.64" y="211.22" width="5.68" height="5.08" fill="rgb(173,16,16)" opacity="0.37"/>
<rect x="902.43" y="212.25" width="6.1" height="4.36" fill="rgb(167,16,16)" opacity="0.6"/>
<rect x="906.22" y="202.23" width="5.27" height="6.48" fill="rgb(189,16,16)" opacity="0.67"/>
<rect x="905.51" y="203.34" width="6.7" height="4.59" fill="rgb(151,16,16)" opacity="0.49"/>
<rect x="910.45" y="206.27" width="6.99" height="3.88" fill="rgb(186,16,16)" opacity="0.58"/>
<rect x="910.37" y="212.42" width="7.16" height="3.81" fill="rgb(191,16,16)" opacity="0.44"/>
<rect x="914.59" y="209.87" width="6.39" height="5.7" fill="rgb(156,16,16)" opacity="0.61"/>
<rect x="914.74" y="204.23" width="6.1" height="6.3" fill="rgb(192,16,16)" opacity="0.65"/>
<rect x="917.1" y="197.87" width="7.54" height="4.73" fill="rgb(163,16,16)" opacity="0.61"/>
<rect x="917" y="196.13" width="7.74" height="6.07" fill="rgb(145,16,16)" opacity="0.66"/>
<rect x="921.45" y="211.74" width="7.27" height="4.05" fill="rgb(179,16,16)" opacity="0.67"/>
<rect x="922.24" y="210.07" width="5.68" height="5.24" fill="rgb(195,16,16)" opacity="0.56"/>
<rect x="927.42" y="225.18" width="5.34" height="6.17" fill="rgb(145,16,16)" opacity="0.63"/>
<rect x="926.57" y="209.17" width="7.04" height="3.63" fill="rgb(184,16,16)" opacity="0.46"/>
<rect x="931.72" y="218.86" width="7.23" height="6.99" fill="rgb(168,16,16)" opacity="0.61"/>
<rect x="932.32" y="228.5" width="6.05" height="6.82" fill="rgb(183,16,16)" opacity="0.52"/>
<rect x="936.9" y="227.18" width="7.03" height="4.22" fill="rgb(156,16,16)" opacity="0.64"/>
<rect x="937.85" y="228.34" width="5.13" height="5.96" fill="rgb(173,16,16)" opacity="0.7"/>
<rect x="940.48" y="205.48" width="6.91" height="5.4" fill="rgb(147,16,16)" opacity="0.42"/>
<rect x="940.82" y="210.97" width="6.23" height="4.2" fill="rgb(157,16,16)" opacity="0.46"/>
<rect x="946.14" y="217.94" width="5.71" height="4.35" fill="rgb(196,16,16)" opacity="0.56"/>
<rect x="945.97" y="202.99" width="6.05" height="4.55" fill="rgb(158,16,16)" opacity="0.74"/>
<rect x="950.04" y="181.72" width="7.45" height="5.42" fill="rgb(161,16,16)" opacity="0.68"/>
<rect x="950.57" y="179.22" width="6.38" height="6.18" fill="rgb(154,16,16)" opacity="0.72"/>
<rect x="956.02" y="148.46" width="5.62" height="3.71" fill="rgb(165,16,16)" opacity="0.44"/>
<rect x="955.66" y="145.64" width="6.34" height="3.9" fill="rgb(199,16,16)" opacity="0.46"/>
<rect x="960.93" y="114.88" width="5.22" height="3.54" fill="rgb(202,16,16)" opacity="0.8"/>
<rect x="960.54" y="104.29" width="6" height="6.09" fill="rgb(202,16,16)" opacity="0.43"/>
<rect x="966.09" y="131.77" width="6.63" height="3.53" fill="rgb(176,16,16)" opacity="0.76"/>
<rect x="966.79" y="134.19" width="5.23" height="6.12" fill="rgb(190,16,16)" opacity="0.31"/>
<rect x="970.98" y="134.59" width="7.89" height="5.34" fill="rgb(161,16,16)" opacity="0.75"/>
<rect x="971.18" y="122.99" width="7.49" height="6.1" fill="rgb(163,16,16)" opacity="0.46"/>
<rect x="976.82" y="127.16" width="6.11" height="5.43" fill="rgb(172,16,16)" opacity="0.48"/>
<rect x="977.21" y="121.7" width="5.32" height="6.31" fill="rgb(191,16,16)" opacity="0.76"/>
<rect x="982.33" y="116.1" width="6.5" height="4.05" fill="rgb(150,16,16)" opacity="0.45"/>
<rect x="982.84" y="114.05" width="5.49" height="5.05" fill="rgb(151,16,16)" opacity="0.78"/>
<rect x="988.69" y="125.24" width="5.65" height="4.8" fill="rgb(205,16,16)" opacity="0.32"/>
<rect x="988.91" y="123.11" width="5.22" height="3.69" fill="rgb(183,16,16)" opacity="0.66"/>
<rect x="990.97" y="116.33" width="7.48" height="6.66" fill="rgb(177,16,16)" opacity="0.38"/>
<rect x="991.36" y="119.09" width="6.69" height="4.72" fill="rgb(150,16,16)" opacity="0.4"/>
<rect x="996.04" y="128.4" width="6.6" height="5.69" fill="rgb(191,16,16)" opacity="0.38"/>
<rect x="996.75" y="116.4" width="5.18" height="5.87" fill="rgb(178,16,16)" opacity="0.6"/>
<rect x="1000.81" y="113.39" width="6.44" height="5.77" fill="rgb(183,16,16)" opacity="0.45"/>
<rect x="1001.2" y="96.82" width="5.67" height="6.09" fill="rgb(158,16,16)" opacity="0.65"/>
<rect x="1005.1" y="143.2" width="7.83" height="4.76" fill="rgb(196,16,16)" opacity="0.42"/>
<rect x="1006.17" y="139.78" width="5.68" height="6.89" fill="rgb(154,16,16)" opacity="0.4"/>
<rect x="1009.9" y="137.79" width="5.56" height="5.85" fill="rgb(169,16,16)" opacity="0.65"/>
<rect x="1009.32" y="135.38" width="6.72" height="3.9" fill="rgb(150,16,16)" opacity="0.56"/>
<rect x="1015.53" y="110.8" width="5.4" height="5.26" fill="rgb(154,16,16)" opacity="0.55"/>
<rect x="1014.7" y="113.45" width="7.06" height="5.41" fill="rgb(164,16,16)" opacity="0.78"/>
<rect x="1019.26" y="128.67" width="7.33" height="3.7" fill="rgb(187,16,16)" opacity="0.42"/>
<rect x="1019.53" y="129.37" width="6.78" height="4.25" fill="rgb(157,16,16)" opacity="0.45"/>
<rect x="1023.39" y="129.02" width="7.62" height="5.47" fill="rgb(185,16,16)" opacity="0.76"/>
<rect x="1023.44" y="130.63" width="7.52" height="6.31" fill="rgb(141,16,16)" opacity="0.67"/>
<rect x="1029.41" y="130.58" width="6.54" height="5.34" fill="rgb(202,16,16)" opacity="0.48"/>
<rect x="1029.65" y="126.26" width="6.06" height="4.75" fill="rgb(154,16,16)" opacity="0.46"/>
<rect x="1032.99" y="136.67" width="5.58" height="5.06" fill="rgb(196,16,16)" opacity="0.72"/>
<rect x="1032.55" y="133.04" width="6.46" height="3.76" fill="rgb(159,16,16)" opacity="0.43"/>
<rect x="1036.94" y="156.22" width="7.01" height="6.43" fill="rgb(172,16,16)" opacity="0.59"/>
<rect x="1037.92" y="157.68" width="5.04" height="4.7" fill="rgb(204,16,16)" opacity="0.38"/>
<rect x="1042.34" y="133.89" width="5.11" height="4.14" fill="rgb(190,16,16)" opacity="0.71"/>
<rect x="1041.35" y="149.57" width="7.08" height="5.07" fill="rgb(149,16,16)" opacity="0.41"/>
<rect x="1046.28" y="137.36" width="5.39" height="5.69" fill="rgb(186,16,16)" opacity="0.41"/>
<rect x="1045.77" y="143.95" width="6.41" height="6.78" fill="rgb(182,16,16)" opacity="0.46"/>
<rect x="1050.84" y="146.14" width="5.75" height="6.57" fill="rgb(158,16,16)" opacity="0.6"/>
<rect x="1050.8" y="140.8" width="5.82" height="5.25" fill="rgb(157,16,16)" opacity="0.43"/>
<rect x="1055.84" y="134.27" width="7.71" height="3.83" fill="rgb(194,16,16)" opacity="0.4"/>
<rect x="1056.77" y="137.46" width="5.84" height="6.28" fill="rgb(158,16,16)" opacity="0.74"/>
<rect x="1061.72" y="142.94" width="6.02" height="4.77" fill="rgb(171,16,16)" opacity="0.73"/>
<rect x="1061.16" y="142.27" width="7.15" height="4.67" fill="rgb(181,16,16)" opacity="0.65"/>
<rect x="1066.54" y="137.51" width="7.68" height="6.33" fill="rgb(159,16,16)" opacity="0.8"/>
<rect x="1066.55" y="130.08" width="7.67" height="5.85" fill="rgb(190,16,16)" opacity="0.5"/>
<rect x="1071.71" y="147.41" width="6.76" height="4" fill="rgb(172,16,16)" opacity="0.66"/>
<rect x="1072.31" y="139.2" width="5.57" height="6.74" fill="rgb(178,16,16)" opacity="0.59"/>
<rect x="1076.17" y="151.45" width="7.32" height="5" fill="rgb(148,16,16)" opacity="0.73"/>
<rect x="1077.07" y="150.33" width="5.53" height="6.64" fill="rgb(161,16,16)" opacity="0.57"/>
<rect x="1081.88" y="111.68" width="5.65" height="4.9" fill="rgb(176,16,16)" opacity="0.4"/>
<rect x="1081.11" y="114.75" width="7.2" height="6.87" fill="rgb(150,16,16)" opacity="0.6"/>
<rect x="1085.42" y="115.47" width="5.02" height="4.45" fill="rgb(141,16,16)" opacity="0.62"/>
<rect x="1085.11" y="117.01" width="5.64" height="4.64" fill="rgb(202,16,16)" opacity="0.67"/>
<rect x="1088.35" y="110.49" width="7.59" height="6.29" fill="rgb(182,16,16)" opacity="0.34"/>
<rect x="1089.05" y="116.74" width="6.2" height="6.79" fill="rgb(143,16,16)" opacity="0.74"/>
<rect x="1094.5" y="107.9" width="6.84" height="6.03" fill="rgb(151,16,16)" opacity="0.46"/>
<rect x="1095.21" y="104.13" width="5.43" height="6.19" fill="rgb(186,16,16)" opacity="0.34"/>
<rect x="1098.79" y="95.06" width="6.8" height="4.66" fill="rgb(173,16,16)" opacity="0.67"/>
<rect x="1098.53" y="108.47" width="7.33" height="4.58" fill="rgb(198,16,16)" opacity="0.69"/>
<rect x="1102.96" y="114.44" width="7.82" height="3.96" fill="rgb(200,16,16)" opacity="0.3"/>
<rect x="1103.21" y="102.6" width="7.32" height="4.77" fill="rgb(169,16,16)" opacity="0.79"/>
<rect x="1107.64" y="109.45" width="6.87" height="3.93" fill="rgb(166,16,16)" opacity="0.57"/>
<rect x="1107.66" y="113.79" width="6.82" height="6.08" fill="rgb(160,16,16)" opacity="0.75"/>
<rect x="1112.8" y="114.28" width="5.73" height="6.94" fill="rgb(184,16,16)" opacity="0.55"/>
<rect x="1112.67" y="111.87" width="5.97" height="6.66" fill="rgb(141,16,16)" opacity="0.35"/>
<rect x="1115.83" y="119.17" width="6.05" height="4.3" fill="rgb(188,16,16)" opacity="0.49"/>
<rect x="1116.32" y="110.69" width="5.06" height="5.98" fill="rgb(185,16,16)" opacity="0.42"/>
<rect x="1119.52" y="118.92" width="5.9" height="6.98" fill="rgb(160,16,16)" opacity="0.41"/>
<rect x="1118.66" y="121.96" width="7.61" height="4.44" fill="rgb(178,16,16)" opacity="0.68"/>
<rect x="1122.51" y="110.18" width="7.62" height="4.37" fill="rgb(197,16,16)" opacity="0.46"/>
<rect x="1122.49" y="103.59" width="7.65" height="4.23" fill="rgb(186,16,16)" opacity="0.74"/>
<rect x="1125.66" y="114.53" width="7.59" height="6.98" fill="rgb(143,16,16)" opacity="0.45"/>
<rect x="1125.58" y="111.37" width="7.74" height="3.97" fill="rgb(204,16,16)" opacity="0.45"/>
<rect x="1131.46" y="117.68" width="6.39" height="4.89" fill="rgb(190,16,16)" opacity="0.51"/>
<rect x="1132.11" y="133.81" width="5.1" height="4.32" fill="rgb(141,16,16)" opacity="0.7"/>
<rect x="1134.23" y="116.54" width="7.1" height="6.05" fill="rgb(180,16,16)" opacity="0.32"/>
<rect x="1135.09" y="114.53" width="5.36" height="5.21" fill="rgb(194,16,16)" opacity="0.37"/>
</g>
<g filter="url(#b0)">
<rect x="328.8" y="73" width="24.2" height="2.6" fill="rgb(240,140,30)"/>
<rect x="943.5" y="199.2" width="6" height="3.2" fill="rgb(255,150,40)"/>
<rect x="913" y="193.5" width="6" height="3" fill="rgb(230,50,20)"/>
<rect x="938" y="207.5" width="7" height="3" fill="rgb(210,40,20)"/>
</g>
</g>
<path d="M107.75,206.5 L109.15,203.98 L110.5,208.75 L110.55,208.55 L111.25,203.75 L111.95,209.66 L113.35,216.02 L114.75,218.5 L116.15,223.57 L117.55,233.58 L118.95,237.22 L120.35,243.78 L121.75,265.24 L123.15,266.45 L124.55,264.52 L125.95,266.34 L127.35,266.05 L128.75,266.01 L130.15,265.47 L131.55,271.9 L132.95,286.92 L133,286.25 L134.35,279.74 L135.75,275 L135.75,275.72 L137.15,283.76 L137.5,285 L138.55,279.82 L139.95,282.15 L141.35,289.52 L142.5,295 L142.75,293.94 L144.15,290.5 L145.55,290.85 L146.95,288.17 L148.35,287.94 L149.75,287.54 L151.15,283.9 L152.55,282.56 L153.95,282.2 L155.35,284.87 L156.75,283.41 L158.15,281.03 L159.55,278.23 L160.95,273.14 L162.35,271.56 L163.75,274.78 L165.15,280.52 L166.55,281.21 L167.95,283.33 L169.35,282.3 L170.75,280.96 L172.15,278.85 L173.55,277.57 L174.95,277.29 L176.35,276.17 L177.75,276.01 L179.15,274.23 L180.55,273.9 L181.95,272.7 L183.35,272.19 L184.75,270.51 L186.15,268.99 L187.55,272.94 L188.95,275.08 L190.35,276.8 L191.75,278.04 L193.15,279.94 L194.55,276.6 L195.95,277.46 L197.35,275.37 L198.75,273.1 L200.15,271.04 L201.55,269.81 L202.95,261.72 L204.35,259.89 L205.75,262.15 L207.15,259.05 L208.55,255.9 L209.95,254.93 L211.35,258.5 L212.75,260.94 L214.15,259.48 L215.55,259.82 L216.95,257.59 L218.35,259.15 L219.75,257.57 L221.15,258.91 L222.55,258.99 L223.95,258.97 L225.35,261.85 L226.75,261.18 L228.15,261.88 L229.55,264.85 L230.95,264.54 L232.35,271.72 L233.75,273.79 L235.15,274.4 L236.55,272.16 L237.95,269.22 L239.35,269.58 L240.75,265.59 L242.15,265.01 L243.55,262.4 L244.95,258.47 L246.35,260.32 L247.75,262.38 L249.15,264.01 L250.55,263.27 L251.95,262.82 L253.35,263.71 L254.75,266.07 L256.15,266.17 L257.55,265.49 L258.95,265.92 L260.35,264.43 L261.75,265.5 L263.15,268.5 L264.55,268.25 L265.95,269.6 L267.35,267.75 L268.75,264.12 L270.15,261.58 L271.55,260.78 L272.95,263.53 L274.35,264.99 L275.75,265.38 L277.15,268.14 L278.55,268.11 L279.95,269.27 L281.35,269.49 L282.75,271.98 L284.15,273.67 L285.55,273.11 L286.95,274.45 L288.35,276.25 L289.75,276.21 L291.15,273.07 L292.55,273.06 L293.95,273.04 L295.35,270.91 L296.75,267.34 L298.15,265.3 L299.55,264.79 L300.95,269.09 L302.35,274.9 L303.75,279.01 L305.15,283.65 L306.55,284.49 L307.5,288 L307.95,286.41 L309.35,281.31 L310.75,274.07 L312.15,269.1 L313.55,267.04 L314.95,261.84 L316.35,257.85 L317.75,254.34 L319.15,250.53 L320.55,244.17 L321.95,240.98 L323.35,238.99 L324.75,239.85 L326.15,241.01 L327.55,245.32 L328.75,247 L328.95,245.21 L330.35,240.11 L331.75,236.54 L332.5,233.75 L333.15,236.53 L334.55,238.75 L335.95,242.07 L337.35,241.83 L338.75,242.12 L340.15,240.08 L341.55,239.65 L342.95,237.39 L344.35,233.37 L345.75,232.12 L347.15,232.48 L348.55,236.27 L349.95,243.17 L351.25,248.75 L351.35,247.29 L352.75,235.45 L354.15,235.81 L355.55,240.36 L356.95,243.69 L358.35,248.45 L359.75,253.14 L361.15,258.15 L362.55,262.38 L363.95,268.31 L365.35,271.62 L366.25,276.25 L366.75,273.12 L368.15,271.42 L369.55,267.38 L370.95,265.27 L372.35,261.8 L373.75,261.35 L375.15,263.28 L376.55,262.98 L377.95,265.47 L379.35,265.02 L380.75,260.79 L382.15,254.1 L383.55,243.47 L384.95,232.42 L386.35,229.43 L387.75,227.04 L389.15,230.37 L390.55,231.91 L391.95,235.98 L393.35,236.16 L394.75,240.84 L396.15,240.15 L397.55,240.36 L398.95,240.51 L400.35,244.52 L401.75,247.11 L403.15,247.61 L404.55,250.42 L405.95,251.27 L407.35,258.4 L408.75,265.49 L410.15,269.47 L411.55,273.26 L412.5,276.25 L412.95,275.32 L414.35,267.34 L415.75,260.87 L417.15,261.13 L418.55,263.29 L419.95,262.42 L421.35,251.55 L422.75,242.56 L423.75,237.5 L424.15,241.39 L425.55,259.2 L426.25,267.5 L426.95,265.45 L428.35,257.26 L429.75,250.38 L431.15,233.94 L432.5,216.25 L432.55,217.76 L433.95,234.37 L434.5,240 L435.35,235.97 L436.75,233.76 L438.15,231.77 L439.55,228.09 L440.95,227.16 L442.35,225.55 L443.75,224.93 L445.15,223.43 L446.55,222.7 L447.95,222.65 L449.35,220.36 L450.75,221.91 L452.15,223.53 L453.55,219.87 L454.95,218.71 L456.35,221.82 L457.75,227.06 L459.15,230.93 L460.55,232.88 L461.95,231.16 L463.35,229.1 L464.75,226.52 L466.15,224.41 L467.55,220.3 L468.95,215.96 L470.35,211.2 L471.75,205.14 L473.15,197.13 L473.75,195 L474.55,198.37 L475.95,204.45 L477.35,204.2 L478.75,202.49 L480.15,207.58 L481.55,212.21 L482.95,213.3 L484.35,214.35 L485.75,212.92 L487.15,213.3 L488.55,211.76 L489.95,210.53 L491.35,209.9 L492.75,211.49 L494.15,220.51 L495,225 L495.55,223.04 L496.95,219.49 L498.35,213.81 L499.75,208.88 L501.15,205.98 L502.55,203.14 L503.95,202.66 L505.35,206.52 L506.75,213.53 L508.15,220.59 L509.55,224.96 L510.95,224.86 L512.35,226.84 L513.75,227.12 L515.15,222.14 L516.55,219.53 L517.95,216.93 L519.35,220.75 L520.75,222.27 L522.15,223.92 L523.55,224.08 L524.95,224.23 L526.35,220.57 L527.75,215.83 L528.75,212.5 L529.15,216.51 L530.55,236.16 L531.95,247.99 L533.35,257.54 L534.75,263.07 L536.15,262.28 L537.55,263.91 L538.95,267.79 L540.35,274.43 L541.25,276.25 L541.75,274.07 L543.15,270.23 L544.55,269.54 L545.95,265.98 L547.35,267.37 L548.75,263.52 L550.15,261.46 L551.55,266.01 L552.95,268.82 L554.35,272.96 L555.75,273.02 L557.15,276.47 L558.55,277.31 L559.95,276.09 L561.35,271.94 L562.5,271.25 L562.75,272.93 L564.15,278.74 L565.55,281.93 L566.95,286.42 L568.35,284.19 L569.75,271.34 L571.15,257.58 L572.55,256.17 L573.95,255.89 L575.35,256.01 L576.75,254.09 L578.15,251.26 L579.55,254.19 L580.95,256.68 L582.35,259.25 L583.75,262.25 L585.15,257.86 L586.55,256.55 L587.95,259.37 L589.35,259.09 L590.75,260.27 L592.15,257.62 L593.55,258.22 L594.95,259.13 L596.35,259.8 L597.75,260.21 L599.15,260.98 L600.55,262.43 L601.95,264.39 L603.35,263.55 L604.75,266.36 L606.15,272.09 L607.55,274.31 L608.95,271.36 L610.35,269.58 L611.75,269.19 L613.15,267.02 L614.55,266.91 L615.95,266 L617.35,266.26 L618.75,264.44 L620.15,261.12 L621.55,259.38 L622.95,256.95 L624.35,254.34 L625.75,258.37 L627.15,259.13 L628.55,261.4 L629.95,261.47 L631.35,260.05 L632.75,259.44 L634.15,257.71 L635.55,256.09 L636.95,253.18 L638.35,251.52 L639.75,252.08 L641.15,264.82 L641.25,266.25 L642.55,264.66 L643.95,260.51 L645.35,261.39 L646.75,259.5 L648.15,259.3 L649.55,259 L650.95,260.62 L652.35,260.93 L653.75,260.48 L655.15,260.72 L656.55,261.78 L657.95,261.59 L659.35,259.86 L660.75,260.55 L662.15,260.95 L663.55,259.09 L664.95,257.95 L666.35,258.63 L667.75,260.78 L669.15,261.35 L670.55,262.46 L671.95,261.73 L673.35,259.56 L674.75,259.12 L676.15,259.51 L677.55,259.58 L678.95,261.55 L680.35,262.22 L681.75,261.92 L683.15,259.64 L684.55,261.19 L685.95,258.97 L687.35,258.59 L688.75,258.81 L690.15,256.23 L691.55,255.97 L692.95,257.87 L694.35,255.82 L695.75,256.04 L697.15,257.14 L698.55,257.74 L699.95,256.01 L701.35,255.65 L702.75,254.56 L704.15,253.31 L705.55,251.52 L706.95,252.37 L708.35,253.11 L709.75,251 L711.15,251.81 L712.55,251.01 L713.95,251.54 L715.35,250.71 L716.75,247.28 L718.15,248.23 L719.55,247.36 L720.95,244.05 L722.35,245.83 L723.75,243.37 L725.15,246.57 L726.55,248.33 L727.95,247.24 L729.35,245.58 L730.75,245.15 L732.15,247.38 L733.55,247.76 L734.95,249 L736.35,249.17 L737.75,247.77 L739.15,245.96 L740.55,244.39 L741.95,246.93 L743.35,247.91 L744.75,250.12 L746.15,250.94 L747.55,251.52 L748.95,252.37 L750.35,255.22 L751.75,254.3 L753.15,251.97 L754.55,254.58 L755.95,255.36 L757.35,254.99 L758.75,258.33 L760.15,256.89 L761.55,258.8 L762.95,262.57 L764.35,264.99 L765.75,264.12 L767.15,263.23 L768.55,261.32 L769.95,259.49 L771.35,257.71 L772.75,256.38 L774.15,257.43 L775.55,256.81 L776.95,255.65 L778.35,255.83 L779.75,256.01 L781.15,257.61 L782.55,259.71 L783.95,262.93 L785.35,262.1 L786.75,263.94 L788.15,261.55 L789.55,261.37 L790.95,253.48 L792.35,244.24 L792.5,243.75 L793.75,246.71 L795.15,250.03 L796.55,249.85 L797.95,247.63 L799.35,248.54 L800.75,246.34 L802.15,246.81 L803.55,245.88 L804.95,245.12 L806.35,245.4 L807.75,243.36 L809.15,240.7 L810.55,242.12 L811.95,243.08 L813.35,243.39 L814.75,226.26 L816.15,214.45 L817.55,210.9 L818.95,194.59 L820,192.5 L820.35,192.85 L821.75,194.86 L823.15,198.8 L823.75,200 L824.55,196.69 L825.95,189.24 L826.25,188.75 L827.35,190.67 L828.75,195.53 L830.15,196.05 L831.55,198.02 L832.95,197.77 L834.35,196.76 L835.75,192.95 L837.15,196.62 L838.55,203.08 L838.75,203.75 L839.95,201.92 L841.35,200.66 L842.75,197.31 L844.15,191.95 L845.55,187.78 L846.95,178.25 L848.35,177 L849.75,180.18 L851.15,177.36 L852.55,178.42 L853.95,181.25 L855.35,184.04 L856.75,186.82 L858.15,188.03 L859.55,188.63 L860.95,188.9 L862.35,185.61 L863.75,185 L865.15,181.24 L866.55,176.43 L867.95,172.6 L868.75,170 L869.35,176.18 L870.75,187.18 L871.25,190 L872.15,184.41 L873.55,179.38 L874.95,179.07 L876.35,178.48 L877.75,177.01 L879.15,174.33 L880,173.75 L880.55,173.38 L881.95,177.04 L883.35,180.6 L884.75,183.47 L886.15,190.71 L887.55,198.38 L888.95,204.9 L890.35,210.22 L891.25,203.75 L891.75,205.35 L893.15,209.84 L894.55,212.02 L895.95,214.45 L897.35,215.54 L897.5,216.25 L898.75,213.42 L900.15,210.14 L901.55,210.8 L902.95,210.49 L904.35,211.18 L905.75,208.26 L907.15,207.87 L908.55,210.02 L909.95,212.4 L911.35,212.18 L912.75,211.36 L914.15,211.67 L915.55,210.68 L916.95,207.22 L918.35,203.29 L919.75,200.55 L921.15,195.92 L921.25,196.25 L922.55,205.77 L923.95,216.25 L925.35,218.61 L926.75,220.08 L928.15,221.66 L929.55,220.77 L930.95,217.32 L932.35,213.75 L932.5,213.75 L933.75,219.31 L935.15,226.04 L936.25,231.25 L936.55,229.86 L937.95,226.6 L939.35,225.1 L940.75,224.44 L942.15,219.86 L943.55,217.81 L944.95,212.99 L946.35,209.27 L947.75,211.16 L949.15,213.65 L950.55,209.19 L951.95,196.52 L953.35,187.96 L954.75,184.63 L956.15,176.92 L957.55,165.68 L958.95,151.57 L960.35,136.51 L961.75,109.72 L962.5,95 L963.15,109.11 L964.55,117.75 L965.95,121.61 L967.35,125.33 L968.75,127.95 L970.15,133.99 L971.55,132.63 L972.95,133.21 L974.35,134.07 L975.75,131.18 L977.15,130.8 L978.55,127.96 L979.95,125.04 L981.35,122.31 L982.75,122.93 L984.15,120.98 L985.55,123.91 L986.95,124.35 L988.35,125.77 L989.75,122.97 L991.15,121.82 L992.55,123.28 L993.95,126.28 L995.35,126.86 L996.75,126.88 L998.15,127.1 L999.55,126.67 L1000.95,123.17 L1002.35,118.19 L1003.75,108.51 L1005.15,101.88 L1006.55,105.77 L1007.95,128.51 L1009.35,142.11 L1009.5,145 L1010.75,139.5 L1012.15,136.63 L1013.55,133.31 L1014.95,127.12 L1016.35,125.03 L1017.75,121.53 L1019.15,123.31 L1020.55,132.05 L1021.95,135.32 L1023.35,130.67 L1024.75,129.73 L1026.15,134.46 L1027.5,138.75 L1027.55,139.86 L1028.95,130.88 L1030,127.5 L1030.35,127.97 L1031.75,134.02 L1033.15,136.7 L1034.55,140.58 L1035.95,141.9 L1037.35,144.16 L1038.75,148.16 L1040.15,149.63 L1041.25,153.75 L1041.55,153.45 L1042.95,148.58 L1044.35,145.15 L1045.75,142.35 L1047.15,141.71 L1048.55,142.21 L1049.95,146.03 L1051.35,149.05 L1052.75,148.7 L1054.15,146 L1055.55,144.45 L1056.95,144.5 L1058.35,146.74 L1059.75,144.71 L1061.15,142.66 L1062.55,139.58 L1063.95,137.68 L1065.35,134.3 L1066.75,132.43 L1068.15,129.79 L1069.55,133.76 L1070.95,137.63 L1072.35,141.33 L1073.75,143.79 L1073.75,145 L1075.15,140.01 L1076.25,137.5 L1076.55,139.73 L1077.95,144.73 L1079.35,150.08 L1080.75,153.57 L1081.25,153.75 L1082.15,146.94 L1083.55,137.71 L1084.95,116.7 L1086.35,113.15 L1087.75,111.21 L1089.15,105.36 L1090,103.75 L1090.55,105.32 L1091.95,111.89 L1093.35,113.35 L1094.75,118.31 L1095,118.75 L1096.15,113.67 L1097.55,108.68 L1098.95,108.63 L1100.35,105.51 L1101.75,102.93 L1103.15,101.27 L1104.55,101 L1105.95,105.96 L1107.35,112.63 L1108.75,117.19 L1110.15,122.46 L1111.55,118.47 L1112.95,117.58 L1114.35,114.21 L1115.75,111.09 L1116.25,108.75 L1117.15,111.25 L1118.55,115.1 L1119.95,117.49 L1121.35,116 L1122.75,114.97 L1124.15,112.92 L1125.55,113.23 L1126.95,111.09 L1128.35,112.76 L1129.75,117.34 L1131.15,118.65 L1132.55,124.91 L1133.95,126.18 L1135.35,126.69 L1136.75,125.06 L1138,125" fill="none" stroke="#4c98dc" stroke-width="2.1" stroke-linejoin="round" stroke-linecap="round"/>
<line x1="1138.4" x2="1138.4" y1="33.3" y2="351.4" stroke="#000" stroke-width="1"/>
<line x1="1138.4" x2="1142" y1="37.48" y2="37.48" stroke="#111" stroke-width="1"/>
<line x1="1138.4" x2="1142" y1="48.74" y2="48.74" stroke="#111" stroke-width="1"/>
<line x1="1138.4" x2="1144" y1="60" y2="60" stroke="#111" stroke-width="1"/>
<line x1="1138.4" x2="1142" y1="71.26" y2="71.26" stroke="#111" stroke-width="1"/>
<line x1="1138.4" x2="1142" y1="82.52" y2="82.52" stroke="#111" stroke-width="1"/>
<line x1="1138.4" x2="1142" y1="93.78" y2="93.78" stroke="#111" stroke-width="1"/>
<line x1="1138.4" x2="1142" y1="105.04" y2="105.04" stroke="#111" stroke-width="1"/>
<line x1="1138.4" x2="1144" y1="116.3" y2="116.3" stroke="#111" stroke-width="1"/>
<line x1="1138.4" x2="1142" y1="127.56" y2="127.56" stroke="#111" stroke-width="1"/>
<line x1="1138.4" x2="1142" y1="138.82" y2="138.82" stroke="#111" stroke-width="1"/>
<line x1="1138.4" x2="1142" y1="150.08" y2="150.08" stroke="#111" stroke-width="1"/>
<line x1="1138.4" x2="1142" y1="161.34" y2="161.34" stroke="#111" stroke-width="1"/>
<line x1="1138.4" x2="1144" y1="172.6" y2="172.6" stroke="#111" stroke-width="1"/>
<line x1="1138.4" x2="1142" y1="183.86" y2="183.86" stroke="#111" stroke-width="1"/>
<line x1="1138.4" x2="1142" y1="195.12" y2="195.12" stroke="#111" stroke-width="1"/>
<line x1="1138.4" x2="1142" y1="206.38" y2="206.38" stroke="#111" stroke-width="1"/>
<line x1="1138.4" x2="1142" y1="217.64" y2="217.64" stroke="#111" stroke-width="1"/>
<line x1="1138.4" x2="1144" y1="228.9" y2="228.9" stroke="#111" stroke-width="1"/>
<line x1="1138.4" x2="1142" y1="240.16" y2="240.16" stroke="#111" stroke-width="1"/>
<line x1="1138.4" x2="1142" y1="251.42" y2="251.42" stroke="#111" stroke-width="1"/>
<line x1="1138.4" x2="1142" y1="262.68" y2="262.68" stroke="#111" stroke-width="1"/>
<line x1="1138.4" x2="1142" y1="273.94" y2="273.94" stroke="#111" stroke-width="1"/>
<line x1="1138.4" x2="1144" y1="285.2" y2="285.2" stroke="#111" stroke-width="1"/>
<line x1="1138.4" x2="1142" y1="296.46" y2="296.46" stroke="#111" stroke-width="1"/>
<line x1="1138.4" x2="1142" y1="307.72" y2="307.72" stroke="#111" stroke-width="1"/>
<line x1="1138.4" x2="1142" y1="318.98" y2="318.98" stroke="#111" stroke-width="1"/>
<line x1="1138.4" x2="1142" y1="330.24" y2="330.24" stroke="#111" stroke-width="1"/>
<line x1="1138.4" x2="1144" y1="341.5" y2="341.5" stroke="#111" stroke-width="1"/>
<text class="tk" x="1160.5" y="61.9" textLength="37" lengthAdjust="spacingAndGlyphs">74.00 k</text>
<text class="tk" x="1160.5" y="118.2" textLength="37" lengthAdjust="spacingAndGlyphs">72.00 k</text>
<text class="tk" x="1160.5" y="174.5" textLength="37" lengthAdjust="spacingAndGlyphs">70.00 k</text>
<text class="tk" x="1160.5" y="230.8" textLength="37" lengthAdjust="spacingAndGlyphs">68.00 k</text>
<text class="tk" x="1160.5" y="287.1" textLength="37" lengthAdjust="spacingAndGlyphs">66.00 k</text>
<text class="tk" x="1160.5" y="343.4" textLength="37" lengthAdjust="spacingAndGlyphs">64.00 k</text>
<text class="ax" transform="translate(1206.5,192.5) rotate(90)" text-anchor="middle" textLength="77" lengthAdjust="spacingAndGlyphs">Price (USDT)</text>
<line x1="162.5" x2="162.5" y1="368.75" y2="676.6" stroke="#e6e6e6" stroke-width="1"/>
<line x1="454.25" x2="454.25" y1="368.75" y2="676.6" stroke="#e6e6e6" stroke-width="1"/>
<line x1="673.1" x2="673.1" y1="368.75" y2="676.6" stroke="#e6e6e6" stroke-width="1"/>
<line x1="891.9" x2="891.9" y1="368.75" y2="676.6" stroke="#e6e6e6" stroke-width="1"/>
<line x1="1110.9" x2="1110.9" y1="368.75" y2="676.6" stroke="#e6e6e6" stroke-width="1"/>
<line x1="107.7" x2="1138.3" y1="369.25" y2="369.25" stroke="#e6e6e6" stroke-width="1"/>
<line x1="107.7" x2="1138.3" y1="430.75" y2="430.75" stroke="#e6e6e6" stroke-width="1"/>
<line x1="107.7" x2="1138.3" y1="492.25" y2="492.25" stroke="#e6e6e6" stroke-width="1"/>
<line x1="107.7" x2="1138.3" y1="553.75" y2="553.75" stroke="#e6e6e6" stroke-width="1"/>
<line x1="107.7" x2="1138.3" y1="615.25" y2="615.25" stroke="#e6e6e6" stroke-width="1"/>
<line x1="107.7" x2="1138.3" y1="676.75" y2="676.75" stroke="#e6e6e6" stroke-width="1"/>
<line x1="1138.3" x2="1138.3" y1="368.75" y2="676.6" stroke="#e6e6e6" stroke-width="1"/>
<g id="watermark">
<path d="M600,499.5 C606,494.5 612,495 618,499 C626,504 634,503 640,497.5 C644,494 648,494.5 651,498 L664.5,522 C667,527 665,530.5 660,530.5 L586,530.5 C581,530.5 579.5,527 582,522 L594,502 C595.5,500.5 597.5,500.5 600,499.5 Z" fill="#e4f2f2"/>
<path d="M610.3,432.3 L636.7,432.3 M612.2,432.3 L612.2,461 L579.3,521.5 C575.5,529 578.5,534.3 586.5,534.3 L660,534.3 C668,534.3 671,529 667.2,521.5 L634.8,461 L634.8,432.3" fill="none" stroke="#cccccc" stroke-width="4.4" stroke-linejoin="round" stroke-linecap="round"/>
<text class="wm1" transform="translate(372.2,583.8) scale(0.88,1)" textLength="569" lengthAdjust="spacing">MATERIAL INDICATORS</text>
<line x1="372.6" x2="438" y1="610.8" y2="610.8" stroke="#c4c4c4" stroke-width="1.1"/>
<line x1="815" x2="873" y1="610.8" y2="610.8" stroke="#c4c4c4" stroke-width="1.1"/>
<text class="wm2" x="445.2" y="617.8" textLength="356" lengthAdjust="spacing">THE SCIENCE OF TRADING</text>
</g>

<g clip-path="url(#cc)">
<path class="s" d="M107.5,642.5 L108.75,650 L109,647.37 L110,637.5 L110.5,639.54 L112,646.19 L112,645 L113.5,641.69 L115,641.9 L116.5,643.99 L117.5,648.75 L118,646.62 L119.5,643.78 L120,642.5 L121,651.86 L122.5,665.82 L124,666.86 L125.5,670.28 L127,672.19 L128.5,676.7 L128.75,676.25 L130,674.29 L131.5,668.34 L133,661.23 L134.5,649.55 L136,635.18 L137.5,630.95 L138.75,628.75 L139,629.29 L140,636.25 L140.5,632.39 L141.25,630 L142,633.83 L143,638.75 L143.5,634.7 L145,626.63 L146.5,623.03 L148,620.18 L149.5,622.15 L151,624.83 L152.5,629.71 L152.5,628.75 L154,620.55 L155.5,610.71 L157,596.25 L157,596.25 L158.5,600.45 L160,603.63 L160,603.75 L161.5,600.63 L163,600.14 L163,598.75 L164.5,610.45 L166,612.2 L167.5,613.44 L169,619.13 L170.5,616.74 L172,626.28 L172.5,630 L173.5,624.3 L175,619.5 L176.5,616.6 L178,610.08 L178.75,603.75 L179.5,608.25 L181,615.97 L182.5,614.72 L184,598.1 L185.5,586.69 L187,581.15 L187,580 L188.5,590.63 L190,606.35 L191.5,618.21 L193,623.3 L194.5,629.47 L196,631.65 L197.5,629.07 L199,627.4 L200.5,626.94 L202,627.55 L203.5,608.76 L205,600.18 L206.5,596.16 L208,592.01 L209.5,589.27 L211,589.83 L212.5,590.97 L214,595.42 L215.5,596.6 L217,595.88 L218.5,595.9 L220,592.72 L221.5,591.65 L223,587.68 L223.75,587.5 L224.5,590.49 L225.5,595 L226,592.63 L227.5,588.11 L227.5,588.75 L229,591.57 L230.5,592.6 L232,593.45 L233.5,598.08 L235,599.19 L236.5,600.45 L238,601.58 L239.5,598.98 L241,595.46 L242.5,593.87 L243.75,588.75 L244,588.45 L245.5,591.57 L246.25,593.75 L247,593.01 L248.5,588.77 L248.75,588.75 L250,590.68 L251.25,593.75 L251.5,591.93 L253,588.23 L253.75,587.5 L254.5,591.48 L256,598.03 L256.25,600 L257.5,597.16 L259,593.47 L260.5,594.2 L262,596.12 L263.5,597.45 L265,601.46 L266.5,604.53 L267.5,605 L268,603.11 L269.5,600.03 L271,601.14 L272.5,600.89 L274,599.55 L275.5,600.88 L277,603.92 L278.5,605.48 L280,604.15 L281.5,600.26 L283,596.32 L284.5,596.29 L286,598.53 L287.5,601.39 L289,601.71 L290.5,604.8 L292,603.77 L293.5,606.57 L295,606.82 L295,607.5 L296.5,604.66 L298,601.19 L299.5,599.34 L301,598.01 L302.5,602.49 L304,603.63 L305.5,603.07 L307,603 L308.5,593.49 L310,583.53 L311.5,583.13 L313,577.42 L314.5,567.92 L316,559.9 L317.5,556.23 L319,552.72 L320.5,546.39 L322,543.34 L323.5,542.38 L325,543.33 L326.5,543.59 L328,549.49 L328.75,552.5 L329.5,552.09 L331,549.35 L332.5,531.53 L333.25,521.25 L334,536.25 L335.5,556.24 L337,557.99 L338.5,559.7 L340,561.15 L341.5,565.15 L343,563.06 L344.5,556.3 L346,551.52 L347.5,556.45 L349,568.7 L350.5,583.15 L352,589.49 L353.5,599.97 L353.75,600 L355,591.67 L355.5,590 L356.5,592.13 L358,595.66 L359.5,601.75 L361,605.16 L362.5,608.07 L364,611.32 L365.5,614.91 L367,617.09 L368.5,616.52 L370,614.04 L371.5,607.71 L373,601.77 L374.5,601.31 L376,600.6 L377.5,599.16 L379,595.1 L380.5,588.42 L382,579.23 L383.5,568.8 L385,555.32 L386.5,552.27 L388,553.67 L389.5,556.48 L391,560.64 L392.5,567.19 L394,572.66 L395.5,575.23 L395.5,575 L397,569.58 L398,566.25 L398.5,568.45 L400,570.08 L401.5,576.2 L403,578.68 L404.5,584.78 L406,591.2 L407.5,601.74 L409,611.49 L410.5,614.99 L412,617.2 L412.5,617.5 L413.5,614.18 L415,605.57 L416.5,605.51 L418,606.94 L419.5,606.5 L421,605.17 L422.5,608.07 L424,616.14 L425.5,624.82 L427,637.34 L428.5,644.43 L429.25,646.25 L430,639.67 L431.5,625.46 L433,594.16 L434.5,591.56 L436,591.11 L437.5,589.28 L439,587.19 L440.5,585.05 L442,584.48 L443.5,582.24 L445,580.23 L446.25,580 L446.5,580.87 L448,587.07 L449.5,591.98 L451,596.09 L452.5,596.89 L454,594.88 L455.5,597.57 L457,599.49 L458.5,598.25 L460,597.32 L461.5,596.63 L463,593.48 L464.5,589.36 L466,585.11 L467.5,582.2 L469,577.47 L470.5,567.74 L472,556.93 L473.5,545.56 L475,545.42 L476.5,542.72 L478,546.08 L479.5,548.32 L481,551.34 L482.5,557.07 L484,559.65 L485.5,565.98 L486.25,570 L487,554.87 L488.5,544.92 L490,547.67 L491.5,543.76 L493,541.74 L494.5,539.98 L496,539.74 L497.5,537.35 L499,533.36 L500.5,529.18 L502,525.86 L502.5,523.75 L503.5,527.03 L505,529.27 L506.5,528.66 L508,531.68 L509.5,536.1 L511,537.88 L512.5,539.92 L514,543.6 L515.5,543.85 L517,543.36 L518.5,544.32 L520,546.8 L521.5,547.06 L523,548.82 L524.5,552.22 L526,552.7 L527.5,554.57 L529,546.45 L529.5,542.5 L530.5,552.77 L532,566.39 L533,568.75 L533.5,568.22 L535,563.1 L536.5,561.37 L538,563.35 L539.5,561.15 L541,552.16 L542.5,550.55 L544,548.56 L545.5,544.83 L547,542.24 L548.5,534.9 L550,527.92 L551.5,523.67 L552.5,522.5 L553,529.62 L554.5,540.39 L556,541.4 L557.5,539.98 L559,536.07 L560.5,534.24 L562,531.47 L563.5,529.21 L565,524.03 L566.5,513.31 L568,498.87 L569.5,491.15 L571,478.14 L572.5,472.08 L574,468.33 L575.5,466.33 L577,462.89 L578.5,459 L578.75,457.5 L580,492.46 L581.5,506.05 L583,507.49 L584.5,504.53 L586,505.59 L587.5,502.83 L589,505.29 L590.5,508.56 L592,508.12 L593.5,508.89 L595,508.38 L596.5,506.96 L598,506.29 L599.5,506.86 L601,508.58 L602.5,513.1 L604,520.51 L605.5,521.09 L607,525.22 L608.5,530.57 L608.75,531.25 L610,524.41 L611.5,518.89 L613,515.64 L613.75,513.75 L614.5,520.78 L616,543.05 L617.5,566.92 L619,567.72 L620.5,565.42 L622,562.22 L622,561.25 L623.5,567.62 L625,570.18 L626.5,574.98 L628,577.98 L629.5,579.23 L630,580 L631,578.54 L632.5,575 L634,573.56 L635.5,571.16 L637,569.29 L638.5,565.68 L640,566.31 L641.5,560.04 L643,554.72 L644.5,549.84 L645.5,545 L646,546.68 L647.5,550.97 L648,552.5 L649,548.66 L650.5,541.53 L652,539.86 L652.5,538.75 L653.5,540.51 L655,545.03 L656.5,549.31 L658,551.85 L659.5,554.73 L661,556.07 L662.5,557.8 L664,559.44 L665.5,559.04 L667,556.6 L668.5,557.07 L670,558.72 L671.25,561.25 L671.5,560.96 L673,558.07 L673.75,555 L674.5,555.09 L676,559.16 L677.5,558.04 L679,558.89 L680.5,557.49 L682,557.52 L683.5,555.5 L685,554.59 L686.5,554.09 L688,551.39 L689.5,566.27 L690,570 L691,566.94 L692.5,565.03 L694,565.8 L695.5,565.15 L697,561.58 L698.5,559.32 L700,558.4 L701.5,559.51 L703,560.83 L704.5,559.3 L706,557.42 L707.5,556.62 L707.5,556.25 L709,558.14 L710.5,559.33 L711.25,560 L712,560.23 L713.5,558.06 L715,557.25 L715,556.25 L716.5,558.5 L717.5,561.25 L718,558.67 L719.5,549.12 L721,544.13 L722.5,539.48 L722.5,540 L724,543.23 L725.5,547.64 L727,546.29 L728.5,549.47 L730,550.89 L731.5,550.31 L733,551.1 L734.5,552.97 L736,552.66 L737.5,553.45 L739,550.16 L740.5,540.36 L742,537.44 L743.5,536.33 L745,540.98 L746.5,546.27 L748,548.9 L749.5,553.54 L751,558.64 L751.25,558.75 L752.5,556.78 L753.75,552.5 L754,554.31 L755.5,554.92 L757,557.77 L758.5,558.97 L760,558.76 L761.5,561.52 L763,566.63 L764.5,581.3 L764.5,582.5 L766,578.4 L767.5,574.2 L769,569.64 L770.5,566.29 L772,564.57 L773.5,563.26 L775,564.12 L776.5,568.67 L778,574.45 L779.5,577.87 L781,582.2 L782.5,585.12 L784,587.27 L785.5,591.51 L787,590.89 L788.5,593.49 L790,594.52 L791.5,599.59 L792,601.25 L793,597.72 L794.5,595.55 L796,597.53 L797.5,598.01 L799,602.06 L800.5,603.96 L802,603.98 L803.5,607 L805,608.65 L806.5,608.29 L808,606.9 L809.5,605.31 L811,607.04 L812.5,604.71 L814,599.32 L815.5,573.34 L817,572.32 L818.5,574.45 L820,580.36 L820,580 L821.5,575.98 L823,572.28 L824.5,566.76 L826,563.85 L827.5,559.6 L829,555.82 L830.5,554.65 L832,549.68 L833.5,542.78 L835,534.63 L836.5,532.74 L838,534.86 L839.5,538.56 L841,547.8 L842.5,560.75 L842.5,560 L844,551.37 L845.5,540.09 L847,533 L848.5,525.92 L850,526.43 L851.5,527.66 L853,527.88 L854.5,530.35 L856,533.31 L857.5,535.76 L858.75,537.5 L859,536 L860.5,533.5 L862,528.22 L863.5,522.8 L865,517.95 L866.5,511.44 L868,503.84 L868.75,500 L869.5,501.3 L871,507.96 L872.5,515.4 L874,520.06 L875.5,524.23 L877,527.84 L878.5,526.5 L880,528.66 L881.5,529.92 L883,531.57 L884.5,536.47 L886,541.49 L887.5,551.65 L889,561.62 L890.5,565.13 L890.5,566.25 L892,561.8 L892.5,561.25 L893.5,573.01 L895,583.27 L896.5,585.02 L897.5,586.25 L898,586.06 L899.5,581.19 L901,582.39 L902.5,582.89 L904,581.87 L905.5,580.06 L907,585.27 L908.5,591.48 L910,596.23 L911.5,599.45 L913,594.99 L914.5,587.42 L916,583.57 L917.5,581.65 L919,579.48 L920.5,574.51 L922,571.75 L922.5,568.75 L923.5,570.03 L925,572.57 L925,572.5 L926.5,570.52 L928,567.87 L929.5,566.15 L931,569.18 L932.5,572.67 L934,580.14 L935.5,587.86 L937,589.68 L937.5,591.25 L938.5,585.89 L940,580.54 L941.5,579.22 L943,580.04 L944.5,584.71 L946,585.69 L947.5,588.61 L949,589.7 L950.5,585.62 L952,578.87 L953.5,568.03 L955,543.81 L956.5,537.14 L958,523.8 L959.5,502.08 L961,476.32 L962.5,445.53 L964,438.19 L965.5,439.66 L967,438.12 L968.5,452.41 L970,462.59 L971.5,469.64 L973,476.54 L973.75,480 L974.5,476.67 L976,473.6 L977.5,471.13 L979,471.17 L980.5,482.75 L982,493.83 L983.5,500.2 L985,509.84 L986.5,519.72 L988,529.63 L989.5,535.08 L991,537.48 L992.5,538.52 L994,540.53 L995.5,540.84 L997,543.39 L998.5,544.77 L1000,545.66 L1000,545 L1001.5,533.02 L1003,518.42 L1004.5,511.6 L1006,502.3 L1007.5,492.85 L1007.5,492.5 L1009,503.36 L1009.5,507.5 L1010.5,496.86 L1012,488.64 L1013.5,484.56 L1013.75,483.75 L1015,487.76 L1016.5,493 L1018,501.58 L1019.5,508.42 L1021,517.73 L1022.5,530.09 L1024,528.41 L1025.5,527.06 L1027,523.96 L1028.5,521.27 L1030,518.11 L1031.5,519.29 L1033,521.85 L1034.5,524.89 L1036,526.62 L1037.5,523.8 L1039,529.09 L1040,533.75 L1040.5,533.49 L1042,530.89 L1043.5,528.37 L1045,524.64 L1046.5,523.94 L1048,522.19 L1049.5,520.19 L1051,517.56 L1052.5,517.82 L1054,515.68 L1055.5,512.06 L1057,509.44 L1058.5,500.35 L1060,485.75 L1061.5,476.2 L1063,473.79 L1064.5,465.07 L1066,453.12 L1067.5,447.13 L1069,445.56 L1070.5,447.24 L1072,448.39 L1073.5,454.26 L1075,456.31 L1076.5,457.68 L1078,457.8 L1079.5,462.13 L1080.5,467.5 L1081,465.12 L1082.5,463.55 L1084,446.32 L1085.5,424.9 L1086.25,413.75 L1087,416.55 L1088.5,421.58 L1088.75,422.5 L1090,418.55 L1090.5,416.25 L1091.5,420.06 L1093,425.27 L1094.5,421.81 L1096,418.7 L1097.5,415.45 L1099,409.33 L1100.5,405.45 L1102,402.13 L1103.5,398.04 L1105,393.14 L1106.5,384.5 L1108,377.73 L1109.5,373.13 L1109.5,372.5 L1111,381.77 L1111.25,383.75 L1112.5,379.55 L1114,377.37 L1115.5,372.69 L1117,371.8 L1118.5,371.86 L1120,380.53 L1121.5,389.83 L1123,394.85 L1124.5,397.95 L1126,400.49 L1127.5,402.22 L1129,411.22 L1130.5,416.61 L1132,419.3 L1133.5,432.47 L1135,448.91 L1136.5,453.37 L1137.5,452.5" stroke="#1f77b4" />
<path class="s" d="M107.5,400 L109.1,400.51 L110.7,401.24 L112.3,400.38 L113.9,398.58 L115.5,400.84 L117.1,401.51 L118.7,399.8 L120.3,403.13 L121.25,404.5 L121.9,404.15 L123.5,402.66 L125.1,401.18 L126.7,399.16 L128.3,396.46 L129.9,395.8 L131.5,394.96 L133.1,394.25 L134.7,390.11 L136.3,385.15 L137.9,378.87 L139.5,376.87 L141.1,373.82 L142.7,372.68 L144.3,372.09 L145.9,370.41 L147.5,369.89 L149.1,370.27 L150.7,369.75 L152.3,369.86 L153.9,371.4 L155.5,371.8 L157.1,371.08 L158.7,371.61 L160.3,371.48 L161.9,372.53 L163.5,374.68 L165.1,375.93 L166.7,377.32 L168.3,377.41 L169.9,378.34 L171.5,379.85 L173.1,380.19 L174.7,381.01 L176.3,382.01 L177.9,382.67 L179.5,383.37 L181.1,383.51 L182.7,384.67 L184.3,385.34 L185.9,386.42 L187.5,387.68 L189.1,388.94 L190.7,390.55 L192.3,392.51 L193.9,394.09 L195.5,394.7 L197.1,395.23 L198.7,395.77 L200.3,396.26 L201.9,396.59 L203.5,396.25 L205.1,395.78 L206.7,397.45 L208.3,397.82 L209.9,398.72 L211.5,399.94 L213.1,401.77 L214.7,403.33 L216.3,405.35 L217.9,406.21 L219.5,408.3 L221.1,409.5 L222.7,411.67 L224.3,412.54 L225.9,414.63 L227.5,416.7 L229.1,419.03 L230.7,420.73 L232.3,423.98 L233.9,426.5 L235.5,429.14 L237.1,431.35 L238.7,433.88 L240.3,435.28 L241.9,437.4 L243.5,438.13 L245.1,440.52 L246.7,440.7 L248.3,441.31 L249.9,442.72 L251.5,444.08 L253.1,444.28 L254.7,445.77 L256.3,447.52 L257.9,448.25 L259.5,449.34 L261.1,450.01 L262.7,450.84 L264.3,452.28 L265.9,453.48 L267.5,454.3 L269.1,454.55 L270.7,455.18 L272.3,457.1 L273.9,459.22 L275.5,460.62 L277.1,461.2 L278.7,461.55 L280.3,462.45 L281.9,462 L283.5,461.76 L285.1,461.04 L286.7,462.59 L288.3,463.33 L289.9,463.33 L291.5,464.27 L293.1,465.71 L294.7,465.86 L296.3,467.06 L297.9,466.99 L299.5,467.59 L301.1,468 L302.7,467.86 L304.3,468.34 L305.9,468.3 L307.5,468.45 L309.1,468.14 L310.7,467.2 L312.3,469.33 L313.9,470.95 L315.5,473.55 L317.1,478.03 L318.7,482.89 L320.3,479.94 L321.9,479.35 L323.5,479.98 L325.1,482.49 L326.7,485.07 L328.3,488.39 L329.5,491.25 L329.9,490.18 L331.5,485.86 L333.1,483.12 L334.7,483.69 L336.3,484.23 L337.9,484.86 L339.5,485.26 L341.1,485.07 L342.7,484.47 L344.3,485.23 L345.9,485.44 L347.5,486.58 L349.1,488.29 L350.7,489.73 L352.3,490.51 L353.9,491.99 L355.5,492.62 L357.1,493.11 L358.7,494.19 L360.3,495.09 L361.9,497.38 L363.5,498.71 L365.1,500 L366.7,499.28 L368.3,497.94 L369.9,497.59 L371.5,497.72 L373.1,497.38 L374.7,497.22 L376.3,498.05 L377.9,498.76 L379.5,499.95 L381.1,500.16 L382.7,500.9 L384.3,501.94 L385.9,503.62 L387.5,505.29 L389.1,506.78 L390.7,508.68 L392.3,509.65 L393.9,510.88 L395.5,513.49 L397.1,516.64 L398.7,519.55 L400.3,523.28 L401.9,526.13 L403.5,529.21 L405.1,532.41 L406.7,534.69 L408.3,535.26 L409.9,537.25 L411.5,538.38 L413.1,539.5 L414.7,540.95 L416.3,541.92 L417.9,543.89 L419.5,544.63 L421.1,547.42 L422.7,550.03 L424.3,553.56 L425.9,556.92 L427.5,557.46 L429.1,556.27 L430.7,555.04 L432.3,552.81 L433.9,550.36 L435.5,549.7 L437.1,550.04 L438.7,549.89 L440.3,548.95 L441.9,548.72 L443.5,548.18 L445.1,547.92 L446.7,545.86 L448.3,544.4 L449.9,543.2 L451.5,543.09 L453.1,542.1 L454.7,541.77 L456.3,541.06 L457.9,539.94 L459.5,538.68 L461.1,538.08 L462.7,537.9 L464.3,536.86 L465.9,535.57 L467.5,535.33 L469.1,533.7 L470.7,533.35 L472.3,529.46 L473.9,524.78 L475.5,524.24 L477.1,523.2 L478.7,521.9 L480.3,521.16 L481.9,521.62 L483.5,522.38 L485.1,522.59 L486.7,522.25 L488.3,521.3 L489.9,520.61 L491.5,519.16 L493.1,518.25 L494.7,517.15 L496.3,516.09 L497.9,515.04 L499.5,514.42 L501.1,512.65 L502.7,511.63 L504.3,510.87 L505.9,511.34 L507.5,510.53 L509.1,510.33 L510.7,511.51 L512.3,511.31 L513.9,510.72 L515.5,509.78 L517.1,509.98 L518.7,509.29 L520.3,509.51 L521.9,510.74 L523.5,510.73 L525.1,509.84 L526.7,510.59 L528.3,510.27 L529.9,512.44 L531.5,517.71 L533.1,521.47 L534.7,524.13 L536.3,526.54 L537.9,527.68 L539.5,528.16 L541.1,527.62 L542.7,527.23 L544.3,527.3 L545.9,526.48 L547.5,525.4 L549.1,525.5 L550.7,524.57 L552.3,523.41 L553.9,522.63 L555.5,523.83 L557.1,525.06 L558.7,524.61 L560.3,524.22 L561.9,523.5 L563.5,523.15 L565.1,522.39 L566.7,522.63 L568.3,522.96 L569.9,523.85 L571.5,524.22 L573.1,526.07 L574.7,527.19 L576.3,529.21 L577.9,531.16 L579.5,533.59 L581.1,534.87 L582.7,535.92 L583.25,536.25 L583.25,611.25 L584.85,611.47 L586.45,610.29 L588.05,609.92 L589.65,610.83 L591.25,609.78 L592.85,609.58 L594.45,610.17 L596.05,609.83 L597.65,610.43 L599.25,609.7 L600.85,610.71 L602.45,609.44 L604.05,609.19 L605.65,609.23 L607.25,608.95 L608.85,609.22 L610.45,608.87 L612.05,607.74 L613.65,608.26 L615.25,607.54 L616.85,606.83 L618.45,606.3 L620.05,606.66 L621.65,607.17 L623.25,608.36 L624.85,608.98 L626.45,609.62 L628.05,609.59 L629.65,610.13 L631.25,609.81 L632.85,609.02 L634.45,609.39 L636.05,608.54 L637.65,609.06 L639.25,609.25 L640.85,609.04 L642.45,608.72 L644.05,609.72 L645.65,609.91 L647.25,609.94 L648.85,610.35 L650.45,611.58 L652.05,612.07 L653.65,614.09 L655.25,614.59 L656.85,615.17 L658.45,615.61 L660.05,616.43 L661.65,616.96 L663.25,616.53 L664.85,616.84 L666.45,617.38 L668.05,617.39 L669.65,618.04 L671.25,618.23 L672.85,618.35 L674.45,618.86 L676.05,619.04 L677.65,618.96 L679.25,620.36 L680.85,619.84 L682.45,619.92 L684.05,619.89 L685.65,620.31 L687.25,619.93 L688.85,619.05 L690.45,618.34 L692.05,616.94 L693.65,616.75 L695.25,615.89 L696.85,616.3 L698.45,616.08 L700.05,616.06 L701.65,616.09 L703.25,616.17 L704.85,616.56 L706.45,617.67 L708.05,618.68 L709.65,619.56 L711.25,620.11 L712.85,621.55 L714.45,621.24 L716.05,622.04 L717.65,622.94 L719.25,623.84 L720.85,624.13 L722.45,625.36 L724.05,626.16 L725.65,627.39 L727.25,628.66 L728.85,629.63 L730.45,629.76 L732.05,629.86 L733.65,630.54 L735.25,630.85 L736.85,630.93 L738.45,631.8 L740.05,632.24 L741.65,632.41 L743.25,633.29 L744.85,632.91 L746.45,634.08 L748.05,634.76 L749.65,634.75 L751.25,634.89 L752.85,635.68 L754.45,635.23 L756.05,634.89 L757.65,634.56 L759.25,636.21 L760.85,636.18 L762.45,636.56 L764.05,637.41 L765.65,638.2 L767.25,638.82 L768.85,637.53 L770.45,637.21 L772.05,636.85 L773.65,637.1 L775.25,636.77 L776.85,637.48 L778.45,638.47 L780.05,639.24 L781.65,639.94 L783.25,639.87 L784.85,641.04 L786.45,642.12 L788.05,641.75 L789.65,641.27 L791.25,639.99 L792.85,638.85 L794.45,640.33 L796.05,641.36 L797.65,641.68 L799.25,641.97 L800.85,642.29 L802.45,642.49 L804.05,642.43 L805.65,643.12 L807.25,642.4 L808.85,643.04 L810.45,642.62 L812.05,641.81 L813.65,642.13 L815.25,641.89 L816.85,639.83 L818.45,638.88 L820.05,636.99 L821.65,638.01 L823.25,637.39 L824.85,636.9 L826.45,635.47 L828.05,634.31 L829.65,634.17 L831.25,635.04 L832.85,635.67 L834.45,636.96 L836.05,638.25 L837.65,638.73 L839.25,637.88 L840.85,637.22 L842.45,636.44 L844.05,632.79 L845.65,629.96 L847.25,626.06 L847.5,625 L848.85,627.76 L850.45,630.45 L852.05,633.12 L853.65,634.88 L855.25,636.66 L856.85,638.89 L858.45,640.26 L860.05,642.07 L861.65,642.38 L863.25,642.05 L864.85,641.65 L866.45,642.25 L868.05,641.93 L869.65,645.1 L871.25,650.41 L872.85,651.89 L874.45,653.08 L876.05,654.62 L877.65,655.18 L879.25,656.21 L880.85,657.16 L882.45,658.58 L884.05,660.53 L885.65,662.97 L887.25,667.27 L888.85,670.9 L890.45,671.88 L892.05,672.75 L893.65,673.22 L895.25,674 L896.85,674.87 L898.45,674.27 L900.05,675.5 L901.65,675.37 L903.25,675.66 L904.85,675.84 L906.45,674.55 L908.05,673.96 L909.65,673.52 L911.25,673.13 L912.85,672.81 L914.45,671.98 L916.05,670.63 L917.65,670.06 L919.25,669.39 L920.85,669.42 L922.45,671.72 L924.05,673.19 L925.65,674.02 L927.25,675.27 L928.85,675.15 L930.45,674.77 L932.05,674.14 L933.65,673.78 L935.25,672.59 L936.85,666.79 L938.45,663.09 L940.05,658.45 L941.65,655.75 L943.25,653.67 L944.85,651.04 L946.45,650.9 L948.05,650.46 L949.65,650.02 L951.25,650.14 L952.85,649.79 L954.45,649.19 L956.05,649.16 L957.65,647.14 L959.25,643.05 L960.85,633.02 L962.45,625.1 L963.75,618.75 L964.05,619.06 L965.65,621.09 L967.25,625 L968.85,627.72 L970.45,630.59 L972.05,633.29 L973.65,635.81 L975.25,635.04 L976.85,633.79 L978.45,633.57 L980.05,635.14 L981.65,635.62 L983.25,635.91 L984.85,637.38 L986.45,638.31 L988.05,638.52 L989.65,637.68 L991.25,636.91 L992.85,636.24 L994.45,637.36 L996.05,637.52 L997.65,637.92 L999.25,638.64 L1000.85,639.1 L1002.45,641.4 L1004.05,642.84 L1005.65,642.69 L1007.25,642.35 L1008.85,639.56 L1010.45,636.06 L1012.05,633.74 L1013.65,632.22 L1015.25,631.32 L1016.85,632.48 L1018.45,633.77 L1020.05,636.72 L1021.65,639.17 L1023.25,640.23 L1024.85,640.62 L1026.45,641.23 L1028.05,640.33 L1029.65,640.68 L1031.25,642.21 L1032.85,644.19 L1034.45,645.53 L1036.05,645.94 L1037.65,646.6 L1039.25,647.31 L1040.85,646.86 L1042.45,646.58 L1044.05,646.57 L1045.65,645.43 L1047.25,644.97 L1048.85,643.7 L1050.45,643.73 L1052.05,642.67 L1053.65,640.78 L1055.25,639.78 L1056.85,638.35 L1058.45,636.63 L1060.05,635.06 L1061.65,633.06 L1063.25,632.56 L1064.85,632.34 L1066.45,632.89 L1068.05,632.96 L1069.65,634.16 L1071.25,634.26 L1072.85,634.4 L1074.45,634.81 L1076.05,634.28 L1077.65,634.98 L1079.25,636.57 L1080.85,639.53 L1082.45,639.63 L1084.05,639.93 L1085.65,639.61 L1087.25,641.5 L1088.85,642.84 L1090.45,643.91 L1092.05,645.39 L1093.65,646.49 L1095.25,647.33 L1096.85,647.04 L1098.45,646.23 L1100.05,646.24 L1101.65,648.24 L1103.25,649.12 L1104.85,649.75 L1106.45,648.21 L1108.05,646.94 L1109.65,646.34 L1111.25,646.11 L1112.85,645.48 L1114.45,644.4 L1116.05,643.83 L1117.65,643.97 L1119.25,643.81 L1120.85,645.09 L1122.45,646.16 L1124.05,645.95 L1125.65,645.29 L1127.25,644.57 L1128.85,644.3 L1130.45,644.8 L1132.05,643.6 L1133.65,643.36 L1135.25,642.78 L1136.85,643.08 L1137.5,642.5" stroke="#ff7f0e" />
<path class="s" d="M107.5,633.75 L109.1,634.6 L110.7,647.91 L112.3,652.2 L113.9,652.85 L115.5,664.62 L117.1,665.29 L118.7,665.81 L120.3,664.37 L121.9,663.38 L122.5,662.5 L123.5,665.06 L125.1,670.19 L126.7,672.21 L128.3,673.5 L129.9,673.67 L131.5,673.87 L133.1,671.75 L134.7,667.82 L136.3,655.33 L137.9,646.36 L138.75,643.75 L139.5,645.32 L141.1,647.65 L141.25,647.5 L142.7,645.69 L144.3,644.14 L145.9,644.04 L147.5,644.29 L149.1,643.57 L150.7,642.39 L152.3,642.92 L153.9,642.48 L155.5,642.64 L157.1,641.88 L158.7,641.18 L160.3,640.85 L161.9,640.69 L163.5,640.31 L165.1,641.8 L166.7,644.43 L168.3,645.47 L169.9,646.77 L171.5,647.23 L173.1,647.87 L174.7,648.9 L176.3,648.64 L177.9,649.69 L179.5,649.81 L181.1,650.16 L182.7,650.99 L184.3,652.18 L185.9,653.55 L187.5,656.2 L189.1,663.58 L190.7,668.77 L192.3,671.66 L193.9,673.54 L195.5,674.43 L197.1,675.63 L198.7,675.88 L200.3,676.09 L201.9,675.74 L203.5,668.93 L205.1,666.24 L206.7,663.43 L208.3,661.96 L209.9,660.62 L211.5,658.29 L213.1,658.94 L214.7,660.27 L216.3,660.73 L217.9,660.89 L219.5,660.72 L221.1,661.42 L222.7,662.37 L224.3,662.79 L225.9,663.09 L227.5,662.77 L229.1,663.95 L230.7,664.02 L232.3,665.39 L233.9,665.65 L235.5,667.62 L236.25,667.5 L237.1,665.5 L238.7,661.64 L240.3,660.39 L241.9,660.34 L243.5,660.43 L245.1,660.98 L246.7,660.93 L248.3,660.84 L249.9,659.84 L251.5,660.5 L253.1,661.15 L254.7,662.57 L256.3,662.03 L257.9,662.17 L259.5,661.98 L261.1,664.05 L262.7,665.94 L264.3,667.93 L265.9,668.8 L267.5,670.34 L269.1,670.97 L270.7,670.27 L272.3,669.77 L273.9,670.58 L275.5,669.37 L277.1,669.43 L278.7,669.23 L280.3,668.79 L281.9,667.31 L283.5,667.96 L285.1,668.64 L286.7,670 L288.3,669.3 L289.9,669.48 L291.5,669.7 L293.1,671.54 L294.7,672.28 L296.3,670.74 L297.9,668.84 L299.5,667.26 L301.1,666.94 L302.7,667.5 L304.3,667.44 L305.9,665.64 L307.5,663.46 L309.1,660.24 L310.7,656.7 L312.3,652.61 L313.9,649.81 L315.5,646.66 L317.1,644.39 L318.7,642.31 L320.3,639.56 L321.9,637.07 L323.5,635.03 L325.1,634.39 L326.7,633.25 L328.3,634.06 L329.9,633.87 L331.5,628.65 L333.1,626.78 L334.7,626.61 L336.3,627.51 L337.9,628.67 L339.5,629.47 L341.1,630.11 L342.7,630.82 L344.3,629.9 L345.9,628.1 L347.5,624.53 L349.1,625.92 L350.7,625.73 L352.3,624.96 L353.9,623.47 L355.5,621.61 L357.1,620.65 L358.7,619.87 L360.3,620.96 L361.9,622.55 L363.5,623.75 L365.1,623.69 L366.7,625.49 L368.3,626.61 L369.9,626.33 L371.5,623.62 L373.1,622.77 L374.7,621.82 L376.3,620.78 L377.9,620.11 L379.5,619.86 L381.1,618.24 L382.7,614.18 L384.3,611.92 L385.9,610.2 L387.5,608.56 L389.1,609.43 L390.7,609.05 L392.3,610.25 L393.9,610.94 L395.5,612.11 L397.1,612.67 L398.7,614.22 L400.3,614.71 L401.9,615.94 L403.5,617.39 L405.1,619.26 L406.7,620.93 L408.3,621.59 L409.9,623.21 L411.5,624.79 L413.1,626.19 L414.7,625.97 L416.3,625.16 L417.9,625.42 L419.5,624.09 L421.1,623.3 L422.7,625.39 L424.3,628.59 L425.9,634.22 L427.5,635.15 L429.1,635.28 L430.7,629.86 L432.3,627.57 L433.9,626.77 L435.5,627.91 L437.1,629.18 L438.7,629.97 L440.3,630.36 L441.9,630.38 L443.5,631.48 L445.1,631.68 L446.7,632.99 L448.3,634.88 L449.9,635.32 L451.5,636.05 L453.1,637.21 L454.7,637.34 L456.3,637.77 L457.9,638.87 L459.5,639.46 L461.1,639.02 L462.7,639.01 L464.3,636.05 L465.9,634.64 L467.5,632.51 L469.1,629.85 L470.7,629.58 L472.3,629.83 L473.9,629.83 L475.5,627.96 L477.1,628.3 L478.7,630.43 L480.3,631.08 L481.9,631.73 L483.5,632.68 L485.1,633.34 L486.7,633.23 L488.3,633.15 L489.9,631.97 L491.5,632.39 L493.1,631.08 L494.7,630.46 L496.3,630.51 L497.9,629.37 L499.5,628.46 L501.1,626.4 L501.25,626.25 L502.7,628.45 L504.3,630.95 L505.9,631.81 L507.5,634.04 L509.1,635 L510.7,635.8 L512.3,637.15 L513.9,636.56 L515.5,638.1 L517.1,637.77 L518.7,639.14 L520.3,638.85 L521.9,639.26 L523.5,640 L525.1,640.51 L526.7,639.03 L528.3,636.91 L528.75,636.25 L529.9,639.25 L531.5,642.03 L533.1,641.3 L534.7,639.61 L536.3,639.07 L537.9,638.38 L539.5,635.06 L541.1,630.11 L542.7,628.49 L544.3,628.21 L545.9,626.81 L547.5,626.33 L549.1,624.41 L550.7,619.65 L552.3,620.3 L553.9,621.72 L555.5,621.05 L557.1,620.53 L558.7,619.82 L560.3,619.33 L561.9,618.3 L563.5,616.61 L565.1,614.31 L566.7,607.76 L568.3,600.47 L569.9,590.72 L571.5,581.97 L573.1,576.77 L574.7,574.33 L576.3,575.06 L577.9,577.18 L579.5,579.7 L581.1,579.49 L582.7,579.48 L584.3,578.38 L585.9,577.4 L587.5,576.15 L589.1,577.84 L590.7,578.32 L592.3,578.59 L593.9,576.79 L595.5,576.79 L597.1,578.15 L598.7,578.94 L600.3,581.03 L601.9,580.27 L603.5,580.35 L605.1,579.89 L606.7,580.21 L608.3,580.01 L609.9,580.09 L611.5,579.21 L613.1,578.93 L614.7,578.87 L616.3,578.85 L617.9,577.81 L619.5,577.73 L621.1,577.79 L622.7,578.33 L624.3,579.24 L625.9,582.18 L627.5,583.4 L629.1,584.75 L630.7,583.8 L632.3,582.65 L633.9,582.53 L635.5,580.51 L637.1,579.74 L638.7,578.95 L640.3,578.08 L641.9,577.66 L643.5,576.65 L645.1,575.86 L646.7,576.01 L648.3,577.15 L649.9,576.77 L651.5,577.41 L653.1,578.26 L654.7,579.12 L656.3,579.33 L657.9,579.69 L659.5,579.44 L661.1,579.32 L662.7,579.14 L664.3,578.07 L665.9,577.7 L667.5,578.15 L669.1,578.5 L670.7,578.99 L672.3,579.78 L673.9,579.25 L675.5,580.05 L677.1,579.87 L678.7,579.91 L680.3,579.69 L681.9,579.74 L683.5,579.84 L685.1,579.41 L686.7,579.44 L688.3,578.37 L689.9,578.65 L691.5,577.67 L693.1,578.36 L694.7,578.25 L696.3,579.57 L697.9,580 L699.5,578.91 L701.1,579.33 L702.7,578.41 L704.3,578.52 L705.9,578.27 L707.5,578.68 L709.1,577.74 L710.7,577.93 L712.3,574.97 L713.9,571.15 L715.5,571.5 L717.1,570.93 L718.7,570.25 L720.3,569.22 L721.9,568.15 L723.5,569.21 L725.1,568.28 L726.7,568.7 L728.3,569.93 L729.9,570.36 L731.5,570.31 L733.1,570.68 L734.7,570.74 L736.3,570.98 L737.9,572 L739.5,572.07 L741.1,572.36 L742.7,573.66 L744.3,573 L745.9,573.36 L747.5,573.43 L749.1,573.02 L750.7,571.85 L752.3,572.22 L753.9,571.6 L755.5,571.41 L757.1,571.78 L758.7,571.61 L760.3,571.07 L761.9,569.67 L763.5,568.99 L765.1,569.46 L766.7,570.18 L768.3,570.34 L769.9,570.45 L771.5,570.42 L773.1,571.2 L774.7,569.59 L776.3,568.7 L777.9,569.6 L779.5,570.98 L781.1,571.5 L782.7,572.55 L784.3,572.06 L785.9,570.42 L787.5,569.09 L789.1,567.48 L790.7,566.39 L792.3,565.45 L793.9,565.62 L795.5,566.04 L797.1,566.62 L798.7,566.14 L800.3,565.9 L801.9,565.22 L803.5,564.99 L805.1,564.9 L806.7,564.66 L808.3,564.74 L809.9,563.23 L811.5,563.12 L813.1,563.08 L814.7,562.18 L816.3,562.09 L817.9,560.84 L819.5,561.58 L821.1,561.17 L822.7,561.26 L824.3,560.12 L825.9,560 L827.5,560.36 L829.1,560.28 L830.7,559.38 L832.3,557.61 L833.9,556.25 L835.5,557.74 L837.1,561.44 L838.7,563.57 L840.3,564.5 L841.9,564.67 L843.5,564.7 L845.1,563.06 L846.7,560.05 L848.3,557.8 L849.9,560.46 L851.5,561.6 L853.1,563.04 L854.7,565.22 L856.3,566.31 L857.9,567.78 L859.5,568.31 L861.1,570.26 L862.7,567.75 L864.3,564.6 L865.9,562.69 L867.5,561.99 L869.1,562.24 L870.7,564.29 L872.3,565.94 L873.9,565.41 L875.5,566.04 L877.1,565.31 L878.7,566.27 L880.3,566.35 L881.9,567.44 L883.5,566.99 L885.1,568.75 L886.7,569.73 L888.3,570.22 L889.9,572.48 L891.5,573.84 L893.1,576.45 L894.7,578.9 L896.3,579.38 L897.9,579.71 L899.5,580.12 L901.1,579.55 L902.7,579.6 L904.3,578.82 L905.9,578.9 L907.5,577.48 L909.1,578.35 L910.7,578.26 L912.3,578.13 L913.9,576.45 L915.5,575.02 L917.1,573.6 L918.7,571.58 L920.3,570.17 L921.9,568.31 L923.5,567.43 L925.1,565.34 L926.7,564.55 L928.3,562.43 L929.9,559.74 L931.5,558.07 L933.1,556.59 L934.7,552 L936.3,545.22 L937.9,541.13 L939.5,538.59 L941.1,537.46 L942.7,537.9 L944.3,538.71 L945.9,539.37 L947.5,540.98 L949.1,541.59 L950.7,540.17 L952.3,535.54 L953.9,532.5 L955.5,528.53 L957.1,525.73 L958.7,517.48 L960.3,506.86 L961.9,495.74 L963.5,486.22 L965.1,483.56 L966.7,482.92 L968.3,483.24 L969.9,484.25 L971.5,485.63 L973.1,486.02 L974.7,484.17 L976.3,481.85 L977.9,481.19 L979.5,479.35 L981.1,478.66 L982.7,478.44 L984.3,478.86 L985.9,479.7 L987.5,479.73 L989.1,478.5 L990.7,478.32 L992.3,476.73 L993.9,475.22 L995.5,475.64 L997.1,475.23 L998.7,476.07 L1000.3,473.29 L1001.9,470.15 L1003.5,468.56 L1005.1,466.63 L1006.7,466.16 L1008.3,465.92 L1009.9,461.53 L1011.5,449.51 L1013.1,444.41 L1014.7,441.81 L1016.3,440.75 L1017.9,446.41 L1019.5,451.28 L1021.1,452.95 L1022.7,455.53 L1024.3,455.92 L1025.9,456.56 L1027.5,455.87 L1029.1,454.46 L1030.7,454.06 L1032.3,452.57 L1033.9,452.64 L1035.5,452.57 L1037.1,453.72 L1038.7,453.57 L1040.3,452.56 L1041.9,452.22 L1043.5,450.15 L1045.1,448.35 L1046.7,447.82 L1048.3,447.74 L1049.9,444.49 L1051.5,440.54 L1053.1,439.78 L1054.7,439.52 L1056.3,435.47 L1057.9,430.32 L1059.5,420.41 L1061.1,413.69 L1062.7,409.83 L1064.3,406.95 L1065.9,405.2 L1067.5,404.72 L1069.1,404.08 L1070.7,403.81 L1072.3,405.47 L1073.9,403.49 L1075.5,402.6 L1077.1,402.58 L1078.7,403.67 L1080.3,403.84 L1081.9,402.78 L1083.5,401.33 L1085.1,397.02 L1086.7,391.76 L1088.3,391.69 L1089.9,389.53 L1091.5,388.58 L1093.1,388.23 L1094.7,387.51 L1096.3,386.86 L1097.9,385.81 L1099.5,386.02 L1101.1,385.07 L1102.7,387.55 L1103.75,390 L1104.3,387.04 L1105.9,380.91 L1107.5,377.38 L1109.1,376.51 L1110.7,375.38 L1112.3,374.42 L1113.9,372.8 L1115.5,371.74 L1117.1,370.42 L1118.7,370.61 L1120.3,373.09 L1121.9,373.38 L1123.5,374.29 L1125.1,374.41 L1126.7,374.93 L1128.3,377.33 L1129.9,379.49 L1131.5,382.53 L1133.1,388.75 L1134.7,397.03 L1136.3,398.89 L1137.5,399.5" stroke="#2ca02c" />
<path class="s" d="M107.5,565.75 L109,563 L110.5,556.07 L112,533.43 L113.5,521.23 L115,518.53 L116.5,518.98 L118,520.03 L119.5,517.94 L120.5,516.25 L121,516.7 L122.5,520.77 L124,529.71 L125.5,540.78 L127,542.68 L128.5,549.23 L129.25,553.75 L130,551.12 L131.5,542.98 L133,540.45 L134.5,534.85 L136,513.37 L136.25,510 L137.5,511.52 L138.75,515 L139,514.02 L140.5,507.58 L141.25,503.75 L142,506.19 L143.5,514.3 L145,513.94 L146.5,513.54 L148,506.83 L148.75,505 L149.5,505.67 L151,510.84 L152.5,512.23 L152.5,512.5 L154,504.87 L155.5,492.33 L157,477.8 L157,477.5 L158.5,491.4 L160,493.65 L161.5,491.16 L163,483.5 L163.75,478.75 L164.5,483.62 L166,491.36 L167.5,499.76 L168,503.75 L169,501.67 L170,497.5 L170.5,501.29 L172,511.64 L172.5,516.25 L173.5,508.62 L175,496.71 L176.5,494.59 L178,484.75 L178.75,475 L179.5,480.85 L181,493.39 L182.5,495.1 L182.5,496.25 L184,477.64 L185.5,457.43 L187,436.92 L187,436.25 L188.5,438.38 L190,452.57 L191.5,465.11 L193,473.7 L194.5,479.52 L196,482.1 L196.25,482.5 L197.5,480.29 L199,477.87 L200.5,475.07 L202,472.52 L203.5,456.12 L205,452.01 L206.5,449.34 L208,448.27 L209.5,443.98 L211,440.54 L212.5,441.5 L214,449.07 L215,452.5 L215.5,451.87 L217,447.82 L218.5,447.24 L220,445.62 L221.5,441.53 L223,436.82 L223.75,435 L224.5,437.44 L226,442.98 L226.25,442.5 L227.5,438.09 L229,434.53 L230.5,434.71 L232,436.44 L233.5,437.5 L235,438.9 L236.5,441.06 L238,440.82 L239.5,440.85 L241,440.48 L242.5,433.37 L244,426.89 L245.5,428.72 L247,428.98 L248.5,432.43 L250,433.07 L251.5,433.26 L253,428.91 L253.75,427.5 L254.5,429.74 L256,437.54 L256.25,437.5 L257.5,433.09 L258.75,430 L259,429.92 L260.5,434.67 L262,437.04 L263.5,434.54 L265,438.23 L266.25,440 L266.5,439.26 L268,437.55 L269.5,434.64 L271,431.86 L272.5,431.35 L274,431.27 L275.5,432.21 L277,430.88 L278.5,430.43 L280,431.29 L281.5,428.63 L283,429.27 L284.5,430.98 L286,435.66 L287.5,437.82 L289,437.59 L290.5,440.31 L292,439.01 L293.5,437.85 L295,436.84 L296.5,431.14 L298,427.58 L299.5,427.95 L301,425.41 L302.5,429.32 L304,433.52 L305.5,433.29 L307,432.33 L308.5,420.8 L310,408.07 L311.5,403.88 L313,399.54 L314.5,394.96 L316,392.22 L317.5,389.64 L319,389.02 L320.5,385.26 L322,389.53 L323.5,390.22 L325,392.91 L326.5,397.44 L328,400.34 L329.5,404.21 L330,403.75 L331,398.56 L332.5,383.66 L333.25,370 L334,389.73 L335.5,420.99 L337,421.17 L338.5,422.32 L340,424.96 L341.5,426.14 L343,424.65 L344.5,425.63 L346,424.09 L346.25,422.5 L347.5,429.76 L349,446.37 L350.5,464.36 L352,475.63 L353.5,482.35 L355,483.55 L356.5,486.42 L358,489.71 L359.5,490.29 L361,497.32 L362.5,501.95 L364,507.48 L365.5,513.16 L367,516.75 L368.5,515.45 L370,515.69 L371.5,515.17 L373,510.61 L374.5,508.08 L376,505.93 L377.5,506.32 L379,499.79 L380.5,496.01 L382,489.91 L383.5,480.1 L385,473.89 L386.5,465.76 L388,464.37 L389.5,465.7 L391,469.62 L392.5,474.74 L394,481.71 L395.5,487.6 L397,488.07 L398.5,485.6 L399.5,480 L400,479.93 L401.5,483.98 L403,491.03 L404.5,495.86 L406,501.58 L407.5,510.31 L409,521.07 L410.5,527.94 L412,529.84 L413.5,529.62 L415,524.05 L416.5,518.33 L418,515.47 L419.5,514.57 L421,517.91 L422.5,523.01 L424,529.43 L425.5,538.34 L427,547.76 L428.5,554.48 L428.75,557 L430,544.51 L431.5,522.18 L432.5,491.25 L433,495.62 L434.5,510.06 L434.5,510 L436,505.94 L437.5,502.97 L439,499.26 L440.5,497.65 L442,498.72 L443.5,496.12 L445,494.69 L446.5,497.03 L448,502.16 L449.5,509.04 L450.5,517.5 L451,516.49 L452.5,512.02 L453,510 L454,511.96 L455.5,514.62 L456.25,515 L457,511.57 L458,507.5 L458.5,512.98 L460,533.18 L460,532.5 L461.5,522.54 L463,514.32 L464.5,505.36 L466,502.77 L467.5,500.54 L469,492.18 L470.5,485.29 L472,477.42 L473.5,473.84 L475,468.33 L476.5,461.24 L477,458.75 L478,465.38 L479.5,467.15 L481,467.65 L482.5,475.86 L484,482.25 L485.5,496.47 L485.75,497.5 L487,463.12 L487,463.75 L488.5,468.1 L488.75,467.5 L490,463.22 L491.5,457.28 L493,455.31 L494.5,452.39 L496,448.09 L497.5,444.13 L499,439.15 L500.5,437.92 L502,432.84 L503.5,436.08 L505,434.29 L506.5,433.77 L507.5,432.5 L508,433.29 L509.5,439.47 L511,443.75 L512.5,446.13 L514,449.72 L515.5,452.98 L517,451.68 L518.5,452.54 L520,453.33 L521.5,456.33 L523,460.74 L524.5,462.91 L526,464.84 L527.5,468.39 L527.5,467.5 L529,460.46 L529.5,456.25 L530.5,469.63 L532,482.93 L533,490 L533.5,488.3 L535,486.5 L536.5,481.83 L538,483.41 L539.5,482.07 L541,472.67 L542.5,472.59 L544,479.86 L545.5,490.52 L547,493.6 L548,495 L548.5,487.35 L550,469.52 L551.5,461.08 L552,458.75 L553,465.01 L554.5,473.24 L556,470.69 L557.5,472.15 L559,470.15 L560.5,466.53 L562,466.13 L563.5,464.3 L565,470.46 L566.5,474.71 L568,475.91 L568,476.25 L569.5,459.47 L571,442.09 L572.5,434.02 L574,434.85 L575.5,429.93 L577,418.83 L578.5,400.19 L579.5,392.5 L580,401.35 L581.5,427.66 L583,425.5 L584.5,423.62 L586,419.65 L587.5,419.92 L589,424.42 L590.5,427.68 L592,428.28 L593.5,429.97 L595,430.07 L596.5,423.86 L598,422.37 L599.5,420.8 L601,423.11 L602.5,427.37 L604,434.82 L605.5,440.53 L607,446.87 L607.5,448.75 L608.5,443.96 L610,439.86 L610,440 L611.5,449.89 L612,455 L613,449.49 L613.75,447.5 L614.5,458.94 L616,487.62 L617.5,527.64 L619,543.53 L620.5,545.79 L622,542.44 L622.5,540 L623.5,545.16 L625,549.79 L626.5,553.6 L628,559.63 L629.5,560.62 L630.5,562.5 L631,561.48 L632.5,561.1 L634,558.58 L635.5,557.68 L637,554.98 L638.5,554.67 L640,551.95 L641.5,552.3 L643,542.52 L644.5,534.3 L644.5,533.75 L646,537.69 L647.5,543.03 L648.75,550 L649,548.31 L650.5,541.2 L652,540.41 L653.5,538.81 L655,543.03 L656.5,548.87 L658,553.67 L659.5,556.99 L661,557.67 L662.5,557.8 L664,556.55 L665.5,558.67 L667,559.95 L668.5,560.47 L668.75,561.25 L670,556.6 L671.5,548.72 L673,546.47 L674.5,550.05 L676,556.56 L677.5,560.24 L679,560.64 L680.5,556.86 L682,557.47 L683.5,554.28 L685,552.51 L686.5,552.5 L688,549.86 L689.5,551.15 L691,548.74 L692.5,547.33 L694,540.37 L695.5,534.34 L697,532.27 L698.5,534.09 L700,536.22 L701.5,539.97 L702.5,541.25 L703,540.6 L704.5,539.73 L706,536.04 L706.25,536.25 L707.5,536.45 L709,539.39 L710.5,539.35 L712,543.99 L713.5,544.18 L713.75,545 L715,543.54 L716.5,541.66 L718,538.5 L719.5,532.35 L721,528.34 L722.5,522.39 L723,522.5 L724,525.81 L725.5,530.29 L727,535.28 L728.5,535.16 L730,535.68 L731.5,537.64 L733,537.1 L734.5,538.09 L736,537.13 L737.5,534.68 L739,533.36 L740.5,526.42 L742,521.28 L742,521.25 L743.5,526.7 L745,532.83 L746.5,539.01 L748,543.45 L749.5,547.76 L751,551.75 L752.5,556.23 L752.5,555 L754,553.35 L755,551.25 L755.5,552.37 L757,555.86 L758.5,559.18 L760,559.09 L761.5,562.32 L763,571.06 L763.75,576.25 L764.5,568.75 L766,553.53 L767.5,551.89 L769,548.16 L770.5,541.23 L772,537.01 L773.5,535.05 L773.75,533.75 L775,538.12 L776.5,541.46 L778,546.25 L779.5,554.2 L781,557.75 L782.5,563.51 L784,569.19 L785.5,571.97 L787,575.76 L788.5,582.53 L790,586.6 L791.5,591.46 L793,593.68 L794.5,597.7 L796,598.21 L797.5,600.76 L799,602.9 L800.5,604.3 L802,608.79 L803.5,609.65 L805,612.97 L806.5,618.99 L807,618.75 L808,615.38 L809.5,612.97 L809.5,613.75 L811,615.74 L812,617.5 L812.5,617.14 L814,608.83 L815.5,590.2 L817,583.35 L817.5,580 L818.5,582.33 L820,585.93 L820,585 L821.5,577.65 L823,573.12 L824.5,565.66 L826,563.99 L827.5,558.67 L829,555.11 L830.5,551.8 L832,547.09 L833.5,536.64 L835,527.89 L836.5,503.51 L838,501.88 L838.75,501.25 L839.5,501.09 L841,505.26 L842.5,527.36 L843,535 L844,527.42 L845.5,509.15 L847,494.8 L848.5,487.79 L850,482.14 L851.5,477.94 L853,471.14 L854.5,470.31 L856,470.75 L857.5,472.05 L859,468.78 L860.5,467.05 L862,462 L863.5,455.36 L865,448.69 L866.5,439.71 L868,432.49 L869.5,424.68 L870.5,422 L871,423.11 L872.5,430.82 L874,444.32 L875.5,446.74 L877,451.43 L878.5,454.48 L878.75,453.75 L880,451.67 L881.25,450 L881.5,450.88 L883,453.85 L884.5,458.97 L886,464.49 L887.5,468.15 L889,476.38 L890.5,483.18 L892,481.65 L893.5,490.27 L895,503.81 L895,505 L896.5,499.71 L898,495.87 L899.5,493.73 L901,496.79 L902.5,502.17 L904,509.67 L905.5,515.22 L907,519.71 L907,520 L908.5,516.69 L909.5,516.25 L910,523.9 L911.25,540 L911.5,539.61 L913,536.16 L914.5,532.99 L916,525.44 L917.5,522.29 L919,517.82 L920.5,515.84 L922,514.02 L922,513.75 L923.5,517.25 L925,521.13 L926.5,525.14 L928,527.66 L929.5,527.64 L931,524.48 L932.5,532.44 L934,540.72 L935.5,552.88 L937,567.35 L938.5,576.84 L940,578.41 L941.5,579.03 L943,582.01 L944.5,581.85 L946,585.16 L947.5,585.48 L949,591.78 L950,593.75 L950.5,591.71 L952,587.65 L953.5,579.96 L955,568.09 L956.5,556.46 L958,544.64 L959.5,534.92 L961,525.92 L962.5,507.64 L963.75,501.25 L964,500.84 L965.5,505.8 L967,513.65 L968.5,523.78 L970,539.32 L971.5,552.69 L973,560.86 L974.5,564.17 L976,565.23 L977.5,562.35 L979,567.91 L980.5,574.68 L982,583.38 L983.5,595.49 L985,609.26 L986.5,617.54 L988,629.67 L989.5,646.58 L991,649.52 L992.5,652.82 L994,656.41 L995.5,655.72 L997,656.28 L998.5,654.91 L1000,656.77 L1001.5,646.59 L1003,636.38 L1004.5,627.76 L1006,620.9 L1007.5,611.74 L1008.75,607.5 L1009,610.63 L1010,622.5 L1010.5,619.63 L1012,610.16 L1013.5,610.26 L1015,611.93 L1016.5,620.48 L1018,623.93 L1019.5,634.65 L1021,647.42 L1022.5,656.05 L1024,657.71 L1025.5,656.05 L1027,655.34 L1028.5,652.85 L1030,653.1 L1031.5,658.42 L1033,663.68 L1034.5,664.22 L1036,666.79 L1037.5,666.15 L1039,670.84 L1040.5,671.1 L1042,671.14 L1043.5,665.69 L1045,660.99 L1045,661.25 L1046.5,667.66 L1048,672.46 L1049.5,670.72 L1051,671.37 L1052.5,676.21 L1052.5,675 L1054,669.96 L1055,668.75 L1055.5,669.44 L1057,670.71 L1057.5,672.5 L1058.5,666.4 L1060,659.21 L1061.5,653.75 L1063,641.79 L1064.5,630.62 L1066,613.08 L1067.5,607.82 L1069,604.86 L1070.5,603.57 L1072,609.94 L1073.5,613.13 L1075,614.22 L1076.5,615.89 L1078,619.43 L1079.5,620.75 L1081,619.53 L1082.5,611.45 L1084,599.93 L1085.5,584.51 L1087,584.42 L1088.5,587.69 L1089.5,592.5 L1090,588.41 L1091.25,576.25 L1091.5,576.6 L1093,578.67 L1093.75,581.25 L1094.5,578.25 L1096,574.86 L1097.5,573.16 L1099,568.67 L1100.5,566.44 L1102,561.93 L1103.5,556.1 L1105,547.76 L1106.25,540 L1106.5,541.05 L1108,548.67 L1109.5,563.28 L1111,567.94 L1112.5,564.6 L1114,554.89 L1115.5,551.46 L1117,550.84 L1118.5,553.57 L1120,555.68 L1121.5,561.26 L1123,567.09 L1123.75,570 L1124.5,568.04 L1125.5,565 L1126,566.29 L1127.5,573.66 L1129,582.65 L1130.5,588.15 L1132,596.4 L1133.5,606.73 L1135,619.91 L1136.25,632.5 L1136.5,632.89 L1137.5,627.5" stroke="#d62728" />
<path class="s" d="M107.5,650 L109,639.52 L109.25,636.25 L110.5,639.57 L112,646.02 L113.5,646.85 L115,650.11 L116.5,645.15 L117.5,645 L118,649.56 L119.5,659.51 L121,668.5 L122.5,676.4 L122.5,675 L124,670.52 L125.5,668.8 L127,671.33 L128.5,670.14 L130,669.34 L131.5,663.24 L133,657.75 L134.5,648.05 L135,643.75 L136,652.71 L137.5,660.3 L139,665.69 L140.5,669.03 L141.25,671.25 L142,668.62 L143.5,665.5 L145,662.9 L146.5,660.15 L148,662.01 L149.5,661.94 L151,664.19 L152.5,667.45 L152.5,666.25 L154,658.41 L155.5,649.98 L157,644.52 L158.5,643.64 L160,643.72 L161.5,648.75 L163,649.15 L164.5,650.99 L166,653.08 L167.5,657.48 L169,655.28 L170.5,655.61 L172,658.15 L172.5,660 L173.5,657.99 L175,656.08 L175,655 L176.5,656.13 L177.5,658.75 L178,656.43 L179.5,652.48 L179.5,653.75 L181,659.02 L181.25,660 L182.5,656.58 L184,650.51 L185.5,644.72 L185.5,645 L187,650.63 L188.5,657.6 L190,668.75 L191.5,669.34 L193,670.84 L194.5,672.05 L196,674.49 L197.5,672.82 L199,673.97 L200.5,670.79 L202,667.34 L203.5,661.06 L205,657.39 L206.5,655.08 L208,652.18 L209.5,650.42 L211,651.98 L212.5,652.15 L214,655.7 L215.5,657.28 L217,656.26 L218.5,654.49 L220,654.13 L221.5,657.02 L223,656.49 L224.5,651.29 L226,650.25 L227.5,648.7 L229,653.08 L230.5,652.64 L232,653.19 L233.5,655.88 L235,657.69 L236.5,659.73 L238,659.61 L239.5,658.09 L241,660.04 L242.5,661.82 L243.75,665 L244,663.21 L245.5,659.25 L246.25,658.75 L247,659.03 L248.5,661.42 L250,662.16 L250,662.5 L251.5,656.07 L252.5,652.5 L253,655.83 L254.5,665.07 L255,667.5 L256,664.27 L257.5,658.22 L259,659.15 L260.5,658.59 L262,658.6 L263.5,658.6 L265,656.14 L266.5,660.97 L268,662.07 L269.5,662.19 L271,662.55 L272.5,661.92 L274,662.72 L275.5,665.36 L277,664.28 L278.5,666.66 L280,666.77 L281.5,657.48 L283,651.74 L284.5,651.79 L286,652.82 L287.5,653.3 L289,653.77 L290.5,654.08 L292,656.01 L293.5,657.14 L295,657.65 L296.5,660.69 L298,660.96 L299.5,660.04 L301,662.6 L302.5,662.71 L304,663.12 L305.5,664.31 L307,663.04 L308.5,657.26 L310,654.12 L311.5,652.81 L313,648.7 L314.5,646.81 L316,641.61 L317.5,640.79 L319,636.04 L320.5,633.94 L322,629.95 L323.5,625.94 L325,622.72 L326.5,624.14 L328,626.2 L329.5,626.63 L331,618.75 L332.5,607.66 L332.5,607.5 L334,618.27 L335.5,620.49 L337,623.33 L338.5,624.66 L340,625.29 L341.5,627.58 L343,624.78 L344.5,620.92 L346,620.15 L347.5,620.74 L349,621.2 L350.5,624.99 L352,630.08 L353,635 L353.5,632.09 L355,626.86 L355,627.5 L356.5,631.15 L358,630.52 L359.5,634.42 L361,633.97 L362.5,633.71 L364,631.19 L365.5,631.56 L367,629.17 L368.5,628.62 L370,627.07 L371.5,624.62 L373,621.6 L374.5,619.58 L376,615.91 L377.5,614.46 L379,614.02 L380.5,608.76 L382,605.27 L383.5,599.15 L385,591.06 L386.5,583.08 L387,581.25 L388,583.94 L389.5,587.5 L391,589.69 L392.5,591.68 L394,593.16 L395.5,592.35 L397,589.39 L398.5,587.53 L400,587.44 L401.5,588.21 L403,586.79 L404.5,593.25 L406,596.48 L407.5,605.78 L409,608.87 L410.5,607.32 L412,607.22 L413.5,608.13 L415,607.81 L416.5,606.39 L418,604.19 L419.5,605.24 L421,606.02 L422.5,607.68 L424,607.82 L425.5,612.73 L427,614.61 L428.5,617.5 L428.75,617.5 L430,611.97 L431.5,601.03 L433,585.02 L434.5,582.46 L436,581.38 L437.5,581.32 L439,577.95 L440.5,571.81 L442,567.7 L443.5,567.22 L445,568.23 L446.5,574.27 L447.5,578.75 L448,576.94 L449.5,570.3 L451,567.59 L452.5,565.96 L454,571.11 L455.5,575.72 L456.25,578.75 L457,576.72 L458.5,576.4 L460,563.62 L461.5,561.44 L463,563.58 L464.5,562.78 L466,561.11 L467.5,561.46 L469,554.18 L470.5,545.28 L472,542.95 L473.5,536.77 L474.5,533.75 L475,534.52 L476.5,542.01 L478,544.89 L479.5,545.43 L481,545.19 L482.5,543.46 L484,548.8 L485,552.5 L485.5,550.95 L487,545.88 L488.5,541.28 L488.75,540 L490,549.29 L491.5,559.02 L493,557.89 L494.5,558.54 L496,559.2 L497.5,559.93 L499,558.13 L500.5,550.04 L501.25,546.25 L502,548.72 L503.5,549.28 L505,551.29 L506.5,550.7 L508,551.3 L509.5,551.07 L511,551.82 L512.5,551.32 L514,553.52 L515.5,552.39 L517,553.62 L518.5,553.15 L520,552.24 L521.5,552.69 L523,553.22 L524.5,554.4 L526,554.03 L527.5,551.76 L529,551.1 L530.5,552.97 L532,550.43 L533.5,549.18 L535,545.44 L536.5,542.76 L538,543.17 L539.5,541.21 L541,536.64 L542.5,532.06 L544,528.34 L545.5,529.59 L547,529.37 L548.5,524.22 L550,523.83 L551.5,519.99 L552,520 L553,528.16 L553.75,535 L554.5,532.45 L556,528.31 L557.5,525.88 L559,522.12 L560.5,510.11 L562,504.61 L563.5,505.44 L565,518.71 L565.5,522.5 L566.5,519.67 L568,512.12 L569.5,502.49 L571,497.58 L572.5,495.95 L573.75,493.75 L574,494.63 L575.5,497.02 L577,497.91 L578.5,501.05 L580,524.82 L581.25,542.5 L581.5,540.94 L583,539.35 L583.75,537.5 L584.5,536.97 L586,539.44 L587.5,541.54 L589,542.6 L590.5,541.86 L592,541.4 L593.5,541.31 L595,542.15 L596.5,543.85 L597.5,547.5 L598,545.32 L599.5,542.41 L601,540.6 L601.25,538.75 L602.5,545.45 L604,551.93 L605.5,553.11 L606.25,556.25 L607,552.88 L608.5,545.13 L610,540.24 L611.5,535.07 L613,529.7 L614.5,527.66 L616,526.88 L617.5,525.85 L619,525.02 L620.5,523.77 L622,523.62 L623.5,522.85 L625,519.44 L626.25,515 L626.5,516.94 L628,521.22 L629.5,522.44 L631,520.99 L632.5,518.94 L634,520.34 L635.5,518.11 L637,519.21 L638.5,517.5 L640,514.39 L641.5,512.14 L643,507.72 L644.5,501.75 L646,491.53 L646.25,491.25 L647.5,492.49 L648.75,495 L649,492.53 L650.5,485.74 L652,478.71 L653.5,478.11 L655,478.62 L656.5,478.88 L658,483.49 L659.5,492.85 L661,492.16 L662.5,493.7 L664,492.35 L665.5,491.92 L667,489.59 L668.5,486.97 L670,484.36 L671.5,485.3 L673,486.24 L674.5,485.76 L676,490.05 L677.5,493.92 L679,495.6 L680.5,497.43 L682,497.56 L683.5,497.22 L685,498.7 L686.5,499.3 L688,498.77 L689.5,503.33 L691,505.06 L692.5,504.39 L694,504.52 L695.5,507.94 L697,509.15 L698.5,509.83 L700,512.03 L700,512.5 L701.5,506.32 L703,504.07 L704.5,500.71 L706,499.25 L707.5,499.8 L709,499.56 L710.5,502.89 L712,506.45 L712.5,507.5 L713.5,504.02 L715,497.19 L715.5,496.25 L716.5,499.27 L717.5,503.75 L718,502.28 L719.5,495.58 L721,493.97 L722.5,494.81 L724,494.25 L725.5,494.7 L727,493.38 L728.5,492.87 L730,493.96 L731.5,496.47 L733,496.61 L734.5,498.28 L736,499.79 L737.5,503.9 L739,497.94 L740.5,492.81 L742,486.85 L743.5,480.22 L745,476.89 L746.5,475.47 L748,477.43 L749.5,485.88 L751,494.4 L752.5,497.08 L754,495.15 L755.5,493.96 L757,491.75 L758.5,494.52 L760,495.11 L761.5,497.44 L763,501.25 L764.5,507.05 L766,512.83 L767.5,517.39 L769,523.62 L770.5,528.93 L772,528.75 L773.5,528.35 L775,529.9 L776.5,529.56 L778,527.74 L779.5,530.06 L781,530.53 L782.5,531.95 L784,533.64 L785.5,535.77 L787,534.64 L788.5,533.12 L790,529.62 L791.5,526.35 L793,525.15 L794.5,527.12 L796,528.49 L797.5,529.79 L799,531.5 L800.5,531.88 L802,534.68 L803.5,531.63 L805,530.05 L806.5,528.94 L808,527.95 L809.5,525.23 L811,526.38 L812.5,526.81 L814,517.13 L815.5,512.06 L817,504.29 L818.5,504.98 L820,503.69 L821.5,511.94 L823,519.29 L824.5,525.62 L825,526.25 L826,523.1 L827.5,515.69 L827.5,516.25 L829,517.12 L830.5,520.21 L832,518.69 L833.5,517.71 L835,513.97 L836.5,519.22 L838,522.08 L839.5,524.31 L841,525.72 L842.5,528.25 L843.75,530 L844,530.23 L845.5,523.58 L846.25,522.5 L847,528.74 L848.5,537.42 L850,541.11 L851.5,540.65 L853,543.92 L854.5,545.33 L856,544.05 L857.5,545.31 L859,548.73 L860.5,547.04 L862,548.39 L863.5,550.32 L865,549.17 L866.5,544.85 L868,539.54 L868.75,537.5 L869.5,540.54 L871,543.17 L872.5,547.13 L874,553.86 L875.5,554.04 L877,555.89 L878.5,556.79 L880,558.14 L881.5,561.48 L883,561.6 L884.5,563.87 L886,567.59 L887.5,571.89 L889,572.35 L890.5,580.22 L892,584.86 L893.5,588.22 L895,593.56 L896.25,598.75 L896.5,598.99 L898,595.81 L899.5,592.69 L901,583.62 L902.5,582.71 L904,575.98 L905,570 L905.5,570.02 L907,572.38 L908.5,574.97 L910,575.34 L911.5,578.16 L913,579.18 L914.5,575.24 L916,573.58 L917.5,574.81 L919,568.75 L920.5,566.49 L922,559.28 L922.5,557.5 L923.5,560.34 L925,562.15 L926.5,562.29 L928,559.94 L929.5,558.27 L931,555.81 L932.5,556.48 L934,554.76 L935.5,556.09 L937,556.49 L938.5,552.74 L940,546.49 L940,547.5 L941.5,549.06 L942.5,551.25 L943,548.95 L944.5,545.63 L946,546.1 L947.5,548.5 L949,549.77 L950.5,547.11 L952,541.19 L953.5,533.15 L955,519.8 L956.5,511.13 L958,505.28 L959.5,480.6 L961,464.21 L962.5,449.87 L964,438.84 L965.5,437.04 L967,444.83 L968.5,449.81 L970,455.19 L970,455 L971.5,448.56 L973,446.29 L974.5,447.13 L976,444.79 L977.5,439 L978.75,435 L979,437.44 L980.5,448.89 L982,459.19 L983.5,462.99 L985,470.08 L985.5,472.5 L986.5,472.14 L988,470.83 L989.5,469.87 L991,470.59 L992.5,469.83 L994,470.23 L995.5,471.32 L997,474 L998.5,476.33 L1000,478.72 L1000.5,480 L1001.5,471.63 L1003,463.55 L1004.5,454.51 L1006,453.02 L1007.5,452.72 L1008.75,443.75 L1009,446.85 L1010.5,460.48 L1010.5,460 L1012,457.37 L1013.5,453.41 L1013.75,452.5 L1015,455.34 L1016.5,457.69 L1018,460.09 L1019.5,465.15 L1021,465.73 L1022,468.75 L1022.5,468.01 L1024,462.24 L1025.5,462.78 L1027,464.45 L1028.5,461.04 L1030,453.67 L1031.5,455.54 L1033,453.25 L1034.5,453.67 L1036,456.84 L1037.5,458.46 L1039,460.3 L1040.5,464.52 L1042,462.24 L1043.5,461.51 L1045,458 L1046.5,452.05 L1048,449.36 L1049.5,447.46 L1051,447 L1052.5,448.63 L1054,449 L1054.5,451.25 L1055.5,448.74 L1057,447.23 L1058.5,435.27 L1060,428.01 L1061.25,421.25 L1061.5,423.43 L1063,431.16 L1063,430 L1064.5,428.02 L1066,422.98 L1067.5,422.05 L1069,423.51 L1070.5,423.64 L1072,427.47 L1073.5,430.75 L1075,433.35 L1076.5,432.5 L1078,435.04 L1079.5,439.19 L1080.5,443.75 L1081,443.54 L1082.5,437.57 L1084,424.95 L1085.5,412.78 L1087,405.7 L1088.5,401.1 L1088.75,400 L1090,405.03 L1091.5,412.46 L1093,415.69 L1094.5,417.88 L1095,417.5 L1096,414.57 L1097.5,407.37 L1099,403.34 L1100.5,396.94 L1102,390.49 L1103.5,385.83 L1105,376.17 L1106.5,370.82 L1108,378.48 L1109.5,383.21 L1111,384.73 L1112.5,387.72 L1114,388.82 L1115.5,389.26 L1117,388.88 L1118.5,389.27 L1120,396.1 L1121.5,404.09 L1123,409.63 L1124.5,411.88 L1126,419.42 L1126.25,420 L1127.5,416.38 L1128.75,415 L1129,415.34 L1130.5,419.41 L1132,421.84 L1133.5,423.41 L1135,426.21 L1136.5,428.32 L1137.5,427.5" stroke="#9467bd" />
<path class="s" d="M107.5,475 L120,475 L120.5,496.25 L121.75,466.75 L135.75,466.75 L136.75,488.75 L143,488.75 L144.25,447.5 L175.75,447.5 L176.75,425 L178.75,425 L179.5,396.25 L183.25,396.25 L184,417.5 L185,395 L186.25,397.5 L243.25,397.5 L244.5,370.75 L277,370.75 L278,397.5 L332,397.5 L333,433 L341.25,433 L342.5,413.25 L475,413.25 L476.25,390.75 L538,390.75 L539.25,370 L543,370 L544.25,425.5 L550,425.5 L550.75,446 L579.5,446 L580.5,466.5 L595.5,466.5 L596.5,446.5 L610,446.5 L611,466.75 L687.5,466.75 L688,600 L696.25,600 L698.75,643.75 L955,643.75 L956.25,583.75 L960,583.75 L962,541.25 L970.5,541.25 L971.25,562.5 L981.25,562.5 L982,609.25 L1063.75,609.25 L1065,631.75 L1090,631.75 L1091.25,676.25 L1105,676.25 L1106.25,655 L1110.4,655 L1111,485 L1112.6,485 L1113,550 L1137.5,550" stroke="#8c564b" stroke-linejoin="miter"/>
</g>
<line x1="107.7" x2="107.7" y1="368.75" y2="677.1" stroke="#222" stroke-width="1.1"/>
<line x1="107.7" x2="1138.3" y1="676.6" y2="676.6" stroke="#222" stroke-width="1.1"/>
<line x1="101.8" x2="107.7" y1="369.25" y2="369.25" stroke="#222" stroke-width="1"/>
<line x1="104" x2="107.7" y1="381.55" y2="381.55" stroke="#222" stroke-width="1"/>
<line x1="104" x2="107.7" y1="393.85" y2="393.85" stroke="#222" stroke-width="1"/>
<line x1="104" x2="107.7" y1="406.15" y2="406.15" stroke="#222" stroke-width="1"/>
<line x1="104" x2="107.7" y1="418.45" y2="418.45" stroke="#222" stroke-width="1"/>
<line x1="101.8" x2="107.7" y1="430.75" y2="430.75" stroke="#222" stroke-width="1"/>
<line x1="104" x2="107.7" y1="443.05" y2="443.05" stroke="#222" stroke-width="1"/>
<line x1="104" x2="107.7" y1="455.35" y2="455.35" stroke="#222" stroke-width="1"/>
<line x1="104" x2="107.7" y1="467.65" y2="467.65" stroke="#222" stroke-width="1"/>
<line x1="104" x2="107.7" y1="479.95" y2="479.95" stroke="#222" stroke-width="1"/>
<line x1="101.8" x2="107.7" y1="492.25" y2="492.25" stroke="#222" stroke-width="1"/>
<line x1="104" x2="107.7" y1="504.55" y2="504.55" stroke="#222" stroke-width="1"/>
<line x1="104" x2="107.7" y1="516.85" y2="516.85" stroke="#222" stroke-width="1"/>
<line x1="104" x2="107.7" y1="529.15" y2="529.15" stroke="#222" stroke-width="1"/>
<line x1="104" x2="107.7" y1="541.45" y2="541.45" stroke="#222" stroke-width="1"/>
<line x1="101.8" x2="107.7" y1="553.75" y2="553.75" stroke="#222" stroke-width="1"/>
<line x1="104" x2="107.7" y1="566.05" y2="566.05" stroke="#222" stroke-width="1"/>
<line x1="104" x2="107.7" y1="578.35" y2="578.35" stroke="#222" stroke-width="1"/>
<line x1="104" x2="107.7" y1="590.65" y2="590.65" stroke="#222" stroke-width="1"/>
<line x1="104" x2="107.7" y1="602.95" y2="602.95" stroke="#222" stroke-width="1"/>
<line x1="101.8" x2="107.7" y1="615.25" y2="615.25" stroke="#222" stroke-width="1"/>
<line x1="104" x2="107.7" y1="627.55" y2="627.55" stroke="#222" stroke-width="1"/>
<line x1="104" x2="107.7" y1="639.85" y2="639.85" stroke="#222" stroke-width="1"/>
<line x1="104" x2="107.7" y1="652.15" y2="652.15" stroke="#222" stroke-width="1"/>
<line x1="104" x2="107.7" y1="664.45" y2="664.45" stroke="#222" stroke-width="1"/>
<line x1="101.8" x2="107.7" y1="676.75" y2="676.75" stroke="#222" stroke-width="1"/>
<text class="tk" x="95" y="371.6" text-anchor="end">1.00</text>
<text class="tk" x="97.1" y="433.1" text-anchor="end">800.00 m</text>
<text class="tk" x="97.1" y="494.6" text-anchor="end">600.00 m</text>
<text class="tk" x="97.1" y="556.1" text-anchor="end">400.00 m</text>
<text class="tk" x="97.1" y="617.6" text-anchor="end">200.00 m</text>
<text class="tk" x="95" y="679.1" text-anchor="end">0.00</text>
<line x1="162.5" x2="162.5" y1="674.8" y2="681.9" stroke="#222" stroke-width="1"/>
<text class="tk" x="162.5" y="692.7" text-anchor="middle">3/28</text>
<line x1="454.25" x2="454.25" y1="674.8" y2="681.9" stroke="#222" stroke-width="1"/>
<text class="tk" x="454.25" y="692.7" text-anchor="middle">4/01</text>
<line x1="673.1" x2="673.1" y1="674.8" y2="681.9" stroke="#222" stroke-width="1"/>
<text class="tk" x="673.1" y="692.7" text-anchor="middle">4/04</text>
<line x1="891.9" x2="891.9" y1="674.8" y2="681.9" stroke="#222" stroke-width="1"/>
<text class="tk" x="891.9" y="692.7" text-anchor="middle">4/07</text>
<line x1="1110.9" x2="1110.9" y1="674.8" y2="681.9" stroke="#222" stroke-width="1"/>
<text class="tk" x="1110.9" y="692.7" text-anchor="middle">4/10</text>
<text class="ax" x="623.5" y="711" text-anchor="middle" textLength="66" lengthAdjust="spacingAndGlyphs">Date (UTC)</text>
<text class="ax" transform="translate(27.8,522.3) rotate(-90)" text-anchor="middle" textLength="117" lengthAdjust="spacingAndGlyphs">Norm. CVD (arb. u.)</text>
<rect x="1139.5" y="539.3" width="123" height="137" fill="#fff" fill-opacity="0.95" stroke="#e8e8e8" stroke-width="1"/>
<line x1="1147.2" x2="1164.6" y1="556" y2="556" stroke="#1f77b4" stroke-width="2"/>
<text class="lg" x="1169.4" y="559.9">all orders</text>
<line x1="1147.2" x2="1164.6" y1="576.5" y2="576.5" stroke="#ff7f0e" stroke-width="2"/>
<text class="lg" x="1169.4" y="580.4">$100 to $1k</text>
<line x1="1147.2" x2="1164.6" y1="597" y2="597" stroke="#2ca02c" stroke-width="2"/>
<text class="lg" x="1169.4" y="600.9">$1k to $10k</text>
<line x1="1147.2" x2="1164.6" y1="617.5" y2="617.5" stroke="#d62728" stroke-width="2"/>
<text class="lg" x="1169.4" y="621.4">$10k to $100k</text>
<line x1="1147.2" x2="1164.6" y1="638" y2="638" stroke="#9467bd" stroke-width="2"/>
<text class="lg" x="1169.4" y="641.9">$100k to $1M</text>
<line x1="1147.2" x2="1164.6" y1="658.5" y2="658.5" stroke="#8c564b" stroke-width="2"/>
<text class="lg" x="1169.4" y="662.4">$1M to $10M</text>
</svg></body></html>
